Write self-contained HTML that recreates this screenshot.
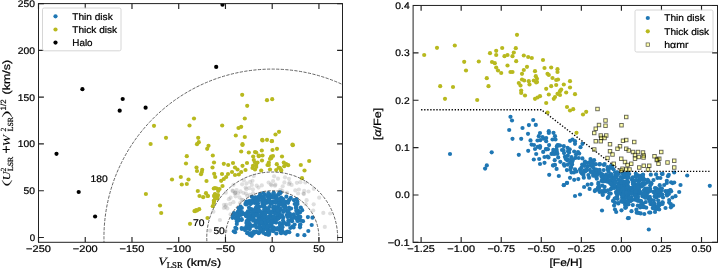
<!DOCTYPE html>
<html><head><meta charset="utf-8"><title>Kinematic and chemical selection of disk stars</title>
<style>html,body{margin:0;padding:0;background:#fff}body{width:718px;height:268px;overflow:hidden;font-family:"Liberation Sans",sans-serif}svg{display:block;will-change:transform;filter:blur(0.35px)}</style>
</head><body>
<svg width="718" height="268" viewBox="0 0 718 268" font-family="Liberation Sans, sans-serif" style="text-rendering:geometricPrecision">
<rect width="718" height="268" fill="#fff"/>
<defs>
<clipPath id="cl"><rect x="38.5" y="3.6" width="304.0" height="238.70000000000002"/></clipPath>
<clipPath id="cr"><rect x="413.1" y="5.45" width="304.4" height="236.95000000000002"/></clipPath>
</defs>
<g clip-path="url(#cl)">
<g fill="#808080" fill-opacity="0.25">
<circle cx="274.9" cy="185.7" r="2.1"/><circle cx="305.4" cy="182.5" r="2.1"/><circle cx="319.2" cy="197.7" r="2.1"/><circle cx="252.9" cy="189.3" r="2.1"/><circle cx="295.3" cy="190.4" r="2.1"/><circle cx="330.2" cy="213.5" r="2.1"/><circle cx="313.7" cy="204.3" r="2.1"/><circle cx="246.5" cy="183.4" r="2.1"/><circle cx="247.2" cy="195.8" r="2.1"/><circle cx="303.5" cy="193.5" r="2.1"/><circle cx="298.1" cy="193.5" r="2.1"/><circle cx="246.0" cy="193.6" r="2.1"/><circle cx="274.1" cy="176.3" r="2.1"/><circle cx="224.0" cy="204.8" r="2.1"/><circle cx="228.9" cy="199.2" r="2.1"/><circle cx="249.3" cy="188.1" r="2.1"/><circle cx="240.0" cy="203.1" r="2.1"/><circle cx="233.4" cy="202.2" r="2.1"/><circle cx="280.4" cy="189.8" r="2.1"/><circle cx="250.1" cy="181.8" r="2.1"/><circle cx="282.4" cy="191.0" r="2.1"/><circle cx="230.6" cy="197.7" r="2.1"/><circle cx="235.6" cy="196.3" r="2.1"/><circle cx="230.2" cy="203.9" r="2.1"/><circle cx="235.2" cy="192.8" r="2.1"/><circle cx="223.9" cy="208.0" r="2.1"/><circle cx="275.4" cy="184.7" r="2.1"/><circle cx="298.9" cy="189.5" r="2.1"/><circle cx="305.8" cy="204.0" r="2.1"/><circle cx="245.6" cy="187.6" r="2.1"/><circle cx="242.7" cy="199.8" r="2.1"/><circle cx="273.1" cy="181.0" r="2.1"/><circle cx="242.1" cy="184.3" r="2.1"/><circle cx="210.0" cy="230.6" r="2.1"/><circle cx="288.9" cy="184.2" r="2.1"/><circle cx="246.3" cy="189.2" r="2.1"/><circle cx="240.5" cy="191.4" r="2.1"/><circle cx="225.6" cy="231.0" r="2.1"/><circle cx="313.8" cy="188.8" r="2.1"/><circle cx="270.9" cy="184.3" r="2.1"/><circle cx="243.8" cy="180.3" r="2.1"/><circle cx="282.7" cy="186.3" r="2.1"/><circle cx="256.7" cy="185.7" r="2.1"/><circle cx="225.4" cy="206.9" r="2.1"/><circle cx="249.8" cy="194.8" r="2.1"/><circle cx="306.6" cy="200.2" r="2.1"/><circle cx="289.0" cy="178.8" r="2.1"/><circle cx="296.9" cy="182.8" r="2.1"/><circle cx="234.7" cy="193.5" r="2.1"/><circle cx="252.5" cy="180.8" r="2.1"/><circle cx="230.6" cy="214.3" r="2.1"/><circle cx="300.4" cy="182.2" r="2.1"/><circle cx="219.9" cy="220.0" r="2.1"/><circle cx="251.9" cy="184.9" r="2.1"/><circle cx="287.0" cy="192.6" r="2.1"/><circle cx="284.4" cy="182.4" r="2.1"/><circle cx="243.5" cy="193.0" r="2.1"/><circle cx="278.0" cy="178.7" r="2.1"/><circle cx="303.9" cy="194.1" r="2.1"/><circle cx="261.8" cy="185.4" r="2.1"/><circle cx="241.6" cy="199.8" r="2.1"/><circle cx="308.5" cy="191.5" r="2.1"/><circle cx="239.5" cy="197.4" r="2.1"/><circle cx="271.5" cy="185.3" r="2.1"/><circle cx="213.4" cy="211.7" r="2.1"/><circle cx="253.7" cy="175.9" r="2.1"/><circle cx="226.2" cy="204.8" r="2.1"/><circle cx="233.5" cy="184.8" r="2.1"/><circle cx="235.5" cy="192.7" r="2.1"/><circle cx="258.5" cy="187.6" r="2.1"/><circle cx="268.6" cy="182.5" r="2.1"/><circle cx="253.1" cy="193.3" r="2.1"/><circle cx="285.0" cy="177.3" r="2.1"/><circle cx="291.6" cy="184.9" r="2.1"/><circle cx="232.5" cy="190.7" r="2.1"/><circle cx="289.6" cy="182.6" r="2.1"/><circle cx="232.9" cy="191.0" r="2.1"/><circle cx="304.2" cy="190.9" r="2.1"/><circle cx="236.6" cy="190.0" r="2.1"/><circle cx="313.2" cy="210.5" r="2.1"/><circle cx="238.1" cy="193.3" r="2.1"/><circle cx="324.8" cy="226.9" r="2.1"/><circle cx="225.8" cy="192.7" r="2.1"/><circle cx="227.3" cy="208.4" r="2.1"/><circle cx="323.3" cy="212.9" r="2.1"/>
</g>
<g fill="#1f77b4" >
<circle cx="259.5" cy="222.2" r="2.1"/><circle cx="258.2" cy="210.3" r="2.1"/><circle cx="287.6" cy="216.9" r="2.1"/><circle cx="269.8" cy="225.7" r="2.1"/><circle cx="246.4" cy="223.1" r="2.1"/><circle cx="263.8" cy="219.3" r="2.1"/><circle cx="271.1" cy="222.0" r="2.1"/><circle cx="300.0" cy="212.5" r="2.1"/><circle cx="252.0" cy="215.4" r="2.1"/><circle cx="262.5" cy="218.7" r="2.1"/><circle cx="255.5" cy="208.5" r="2.1"/><circle cx="289.8" cy="213.7" r="2.1"/><circle cx="273.5" cy="194.3" r="2.1"/><circle cx="262.5" cy="212.5" r="2.1"/><circle cx="263.4" cy="193.0" r="2.1"/><circle cx="278.5" cy="201.8" r="2.1"/><circle cx="272.2" cy="216.5" r="2.1"/><circle cx="277.4" cy="218.4" r="2.1"/><circle cx="238.7" cy="208.2" r="2.1"/><circle cx="269.6" cy="194.6" r="2.1"/><circle cx="249.6" cy="201.5" r="2.1"/><circle cx="287.4" cy="231.5" r="2.1"/><circle cx="275.4" cy="207.9" r="2.1"/><circle cx="291.1" cy="208.5" r="2.1"/><circle cx="261.6" cy="223.5" r="2.1"/><circle cx="267.2" cy="202.6" r="2.1"/><circle cx="256.2" cy="207.3" r="2.1"/><circle cx="246.6" cy="201.5" r="2.1"/><circle cx="255.6" cy="197.4" r="2.1"/><circle cx="261.7" cy="213.5" r="2.1"/><circle cx="248.5" cy="211.9" r="2.1"/><circle cx="282.4" cy="227.2" r="2.1"/><circle cx="267.9" cy="220.6" r="2.1"/><circle cx="270.4" cy="220.9" r="2.1"/><circle cx="280.4" cy="201.6" r="2.1"/><circle cx="271.4" cy="223.8" r="2.1"/><circle cx="264.5" cy="210.2" r="2.1"/><circle cx="241.6" cy="228.0" r="2.1"/><circle cx="269.6" cy="221.2" r="2.1"/><circle cx="270.5" cy="196.0" r="2.1"/><circle cx="272.0" cy="221.3" r="2.1"/><circle cx="260.1" cy="194.1" r="2.1"/><circle cx="254.7" cy="202.8" r="2.1"/><circle cx="263.3" cy="206.7" r="2.1"/><circle cx="257.7" cy="212.4" r="2.1"/><circle cx="278.8" cy="194.1" r="2.1"/><circle cx="289.3" cy="232.2" r="2.1"/><circle cx="281.1" cy="233.2" r="2.1"/><circle cx="296.3" cy="206.7" r="2.1"/><circle cx="259.3" cy="225.6" r="2.1"/><circle cx="269.3" cy="207.0" r="2.1"/><circle cx="233.7" cy="214.0" r="2.1"/><circle cx="264.7" cy="202.3" r="2.1"/><circle cx="297.4" cy="201.7" r="2.1"/><circle cx="285.0" cy="205.7" r="2.1"/><circle cx="293.6" cy="227.5" r="2.1"/><circle cx="272.9" cy="210.9" r="2.1"/><circle cx="294.6" cy="224.6" r="2.1"/><circle cx="285.7" cy="233.6" r="2.1"/><circle cx="294.0" cy="200.2" r="2.1"/><circle cx="271.2" cy="219.8" r="2.1"/><circle cx="281.8" cy="216.3" r="2.1"/><circle cx="263.5" cy="199.1" r="2.1"/><circle cx="297.8" cy="213.5" r="2.1"/><circle cx="286.7" cy="201.8" r="2.1"/><circle cx="260.8" cy="228.1" r="2.1"/><circle cx="275.6" cy="208.3" r="2.1"/><circle cx="238.8" cy="214.0" r="2.1"/><circle cx="281.0" cy="224.7" r="2.1"/><circle cx="268.1" cy="195.2" r="2.1"/><circle cx="251.6" cy="209.3" r="2.1"/><circle cx="246.2" cy="204.4" r="2.1"/><circle cx="262.3" cy="202.8" r="2.1"/><circle cx="255.3" cy="211.9" r="2.1"/><circle cx="278.4" cy="214.3" r="2.1"/><circle cx="278.3" cy="201.9" r="2.1"/><circle cx="283.2" cy="199.2" r="2.1"/><circle cx="276.3" cy="207.6" r="2.1"/><circle cx="262.9" cy="221.9" r="2.1"/><circle cx="264.0" cy="220.4" r="2.1"/><circle cx="257.3" cy="211.6" r="2.1"/><circle cx="277.5" cy="207.3" r="2.1"/><circle cx="273.5" cy="229.0" r="2.1"/><circle cx="235.9" cy="217.6" r="2.1"/><circle cx="268.5" cy="218.2" r="2.1"/><circle cx="302.2" cy="210.2" r="2.1"/><circle cx="263.5" cy="218.4" r="2.1"/><circle cx="262.2" cy="222.9" r="2.1"/><circle cx="277.8" cy="229.5" r="2.1"/><circle cx="281.0" cy="224.3" r="2.1"/><circle cx="251.8" cy="235.8" r="2.1"/><circle cx="268.0" cy="234.7" r="2.1"/><circle cx="262.0" cy="200.4" r="2.1"/><circle cx="286.4" cy="224.5" r="2.1"/><circle cx="273.9" cy="196.3" r="2.1"/><circle cx="265.9" cy="208.1" r="2.1"/><circle cx="297.2" cy="213.1" r="2.1"/><circle cx="249.0" cy="220.4" r="2.1"/><circle cx="268.4" cy="193.0" r="2.1"/><circle cx="264.3" cy="206.0" r="2.1"/><circle cx="284.7" cy="203.2" r="2.1"/><circle cx="261.7" cy="215.8" r="2.1"/><circle cx="286.7" cy="215.0" r="2.1"/><circle cx="260.3" cy="196.1" r="2.1"/><circle cx="257.7" cy="207.7" r="2.1"/><circle cx="264.9" cy="203.5" r="2.1"/><circle cx="272.1" cy="202.4" r="2.1"/><circle cx="265.2" cy="211.3" r="2.1"/><circle cx="269.0" cy="233.3" r="2.1"/><circle cx="278.8" cy="205.3" r="2.1"/><circle cx="264.8" cy="194.5" r="2.1"/><circle cx="276.4" cy="233.5" r="2.1"/><circle cx="287.2" cy="211.7" r="2.1"/><circle cx="251.8" cy="196.8" r="2.1"/><circle cx="269.9" cy="216.0" r="2.1"/><circle cx="254.3" cy="202.3" r="2.1"/><circle cx="263.0" cy="229.7" r="2.1"/><circle cx="260.6" cy="228.4" r="2.1"/><circle cx="249.1" cy="216.4" r="2.1"/><circle cx="262.9" cy="217.8" r="2.1"/><circle cx="233.8" cy="231.3" r="2.1"/><circle cx="236.4" cy="228.7" r="2.1"/><circle cx="274.2" cy="219.7" r="2.1"/><circle cx="247.2" cy="233.2" r="2.1"/><circle cx="279.8" cy="223.2" r="2.1"/><circle cx="236.9" cy="221.5" r="2.1"/><circle cx="241.9" cy="229.0" r="2.1"/><circle cx="266.9" cy="221.0" r="2.1"/><circle cx="312.5" cy="217.7" r="2.1"/><circle cx="249.3" cy="225.5" r="2.1"/><circle cx="280.5" cy="208.9" r="2.1"/><circle cx="261.5" cy="214.9" r="2.1"/><circle cx="289.0" cy="207.7" r="2.1"/><circle cx="308.3" cy="231.0" r="2.1"/><circle cx="288.6" cy="224.6" r="2.1"/><circle cx="270.0" cy="217.2" r="2.1"/><circle cx="265.1" cy="227.1" r="2.1"/><circle cx="293.8" cy="214.4" r="2.1"/><circle cx="254.9" cy="214.4" r="2.1"/><circle cx="292.2" cy="226.7" r="2.1"/><circle cx="281.4" cy="232.4" r="2.1"/><circle cx="296.0" cy="203.7" r="2.1"/><circle cx="311.7" cy="225.0" r="2.1"/><circle cx="251.4" cy="209.6" r="2.1"/><circle cx="255.3" cy="232.2" r="2.1"/><circle cx="262.2" cy="205.9" r="2.1"/><circle cx="235.1" cy="232.2" r="2.1"/><circle cx="274.3" cy="221.6" r="2.1"/><circle cx="268.0" cy="208.9" r="2.1"/><circle cx="280.5" cy="229.3" r="2.1"/><circle cx="250.3" cy="209.7" r="2.1"/><circle cx="270.8" cy="220.0" r="2.1"/><circle cx="307.9" cy="217.1" r="2.1"/><circle cx="268.2" cy="229.6" r="2.1"/><circle cx="259.8" cy="226.8" r="2.1"/><circle cx="264.7" cy="203.3" r="2.1"/><circle cx="277.6" cy="216.1" r="2.1"/><circle cx="280.1" cy="225.5" r="2.1"/><circle cx="262.6" cy="196.6" r="2.1"/><circle cx="274.1" cy="222.1" r="2.1"/><circle cx="280.1" cy="210.1" r="2.1"/><circle cx="303.0" cy="221.2" r="2.1"/><circle cx="283.2" cy="217.5" r="2.1"/><circle cx="262.0" cy="223.2" r="2.1"/><circle cx="233.9" cy="213.0" r="2.1"/><circle cx="252.9" cy="200.8" r="2.1"/><circle cx="239.6" cy="208.9" r="2.1"/><circle cx="273.6" cy="201.3" r="2.1"/><circle cx="254.0" cy="216.2" r="2.1"/><circle cx="276.0" cy="202.7" r="2.1"/><circle cx="270.7" cy="215.5" r="2.1"/><circle cx="260.6" cy="220.1" r="2.1"/><circle cx="262.3" cy="231.3" r="2.1"/><circle cx="286.4" cy="196.7" r="2.1"/><circle cx="282.1" cy="215.5" r="2.1"/><circle cx="280.1" cy="193.2" r="2.1"/><circle cx="263.2" cy="213.0" r="2.1"/><circle cx="265.0" cy="217.0" r="2.1"/><circle cx="270.1" cy="216.2" r="2.1"/><circle cx="259.1" cy="218.4" r="2.1"/><circle cx="232.5" cy="217.8" r="2.1"/><circle cx="282.2" cy="230.7" r="2.1"/><circle cx="251.2" cy="209.6" r="2.1"/><circle cx="265.1" cy="220.5" r="2.1"/><circle cx="268.9" cy="221.0" r="2.1"/><circle cx="264.6" cy="226.7" r="2.1"/><circle cx="247.5" cy="216.6" r="2.1"/><circle cx="265.5" cy="234.1" r="2.1"/><circle cx="283.5" cy="223.0" r="2.1"/><circle cx="278.4" cy="218.6" r="2.1"/><circle cx="294.7" cy="217.2" r="2.1"/><circle cx="286.9" cy="210.7" r="2.1"/><circle cx="297.8" cy="220.3" r="2.1"/><circle cx="268.8" cy="212.5" r="2.1"/><circle cx="284.7" cy="232.9" r="2.1"/><circle cx="271.9" cy="226.5" r="2.1"/><circle cx="257.1" cy="203.5" r="2.1"/><circle cx="256.0" cy="208.6" r="2.1"/><circle cx="257.2" cy="212.1" r="2.1"/><circle cx="258.0" cy="203.4" r="2.1"/><circle cx="265.5" cy="200.2" r="2.1"/><circle cx="269.0" cy="234.6" r="2.1"/><circle cx="252.9" cy="215.4" r="2.1"/><circle cx="274.9" cy="220.3" r="2.1"/><circle cx="233.0" cy="215.4" r="2.1"/><circle cx="256.5" cy="212.6" r="2.1"/><circle cx="256.5" cy="207.8" r="2.1"/><circle cx="264.8" cy="215.1" r="2.1"/><circle cx="273.3" cy="207.5" r="2.1"/><circle cx="259.1" cy="206.9" r="2.1"/><circle cx="286.0" cy="201.9" r="2.1"/><circle cx="255.7" cy="220.3" r="2.1"/><circle cx="246.6" cy="226.0" r="2.1"/><circle cx="251.1" cy="225.6" r="2.1"/><circle cx="249.8" cy="229.1" r="2.1"/><circle cx="236.8" cy="224.0" r="2.1"/><circle cx="274.5" cy="213.1" r="2.1"/><circle cx="260.1" cy="211.3" r="2.1"/><circle cx="279.7" cy="213.8" r="2.1"/><circle cx="300.3" cy="224.3" r="2.1"/><circle cx="241.2" cy="214.4" r="2.1"/><circle cx="284.0" cy="222.6" r="2.1"/><circle cx="263.9" cy="197.8" r="2.1"/><circle cx="253.4" cy="211.7" r="2.1"/><circle cx="259.0" cy="220.3" r="2.1"/><circle cx="277.5" cy="215.7" r="2.1"/><circle cx="273.5" cy="220.8" r="2.1"/><circle cx="280.6" cy="227.8" r="2.1"/><circle cx="281.1" cy="197.7" r="2.1"/><circle cx="273.7" cy="192.8" r="2.1"/><circle cx="254.6" cy="201.3" r="2.1"/><circle cx="255.8" cy="222.9" r="2.1"/><circle cx="288.4" cy="220.6" r="2.1"/><circle cx="290.7" cy="215.1" r="2.1"/><circle cx="247.9" cy="211.3" r="2.1"/><circle cx="283.2" cy="212.0" r="2.1"/><circle cx="265.5" cy="210.9" r="2.1"/><circle cx="288.3" cy="214.3" r="2.1"/><circle cx="253.9" cy="225.6" r="2.1"/><circle cx="253.2" cy="220.7" r="2.1"/><circle cx="244.6" cy="228.3" r="2.1"/><circle cx="275.5" cy="202.6" r="2.1"/><circle cx="290.3" cy="228.0" r="2.1"/><circle cx="259.0" cy="227.3" r="2.1"/><circle cx="243.6" cy="214.0" r="2.1"/><circle cx="252.1" cy="202.4" r="2.1"/><circle cx="237.8" cy="212.5" r="2.1"/><circle cx="272.0" cy="197.5" r="2.1"/><circle cx="249.7" cy="234.8" r="2.1"/><circle cx="255.1" cy="225.6" r="2.1"/><circle cx="280.5" cy="209.6" r="2.1"/><circle cx="258.8" cy="233.2" r="2.1"/><circle cx="258.3" cy="209.6" r="2.1"/><circle cx="257.9" cy="222.0" r="2.1"/><circle cx="264.2" cy="222.3" r="2.1"/><circle cx="258.5" cy="198.4" r="2.1"/><circle cx="282.2" cy="226.7" r="2.1"/><circle cx="252.6" cy="217.4" r="2.1"/><circle cx="269.3" cy="198.8" r="2.1"/><circle cx="264.1" cy="224.1" r="2.1"/><circle cx="246.7" cy="227.6" r="2.1"/><circle cx="296.2" cy="207.8" r="2.1"/><circle cx="252.0" cy="212.4" r="2.1"/><circle cx="249.7" cy="223.8" r="2.1"/><circle cx="291.7" cy="220.1" r="2.1"/><circle cx="291.6" cy="220.2" r="2.1"/><circle cx="264.5" cy="227.0" r="2.1"/><circle cx="238.7" cy="215.5" r="2.1"/><circle cx="265.9" cy="221.3" r="2.1"/><circle cx="261.2" cy="221.1" r="2.1"/><circle cx="262.2" cy="221.8" r="2.1"/><circle cx="265.0" cy="214.2" r="2.1"/><circle cx="269.1" cy="198.5" r="2.1"/><circle cx="257.3" cy="210.9" r="2.1"/><circle cx="276.4" cy="201.1" r="2.1"/><circle cx="289.5" cy="199.5" r="2.1"/><circle cx="274.0" cy="195.8" r="2.1"/><circle cx="247.1" cy="222.8" r="2.1"/><circle cx="271.6" cy="218.6" r="2.1"/><circle cx="298.1" cy="210.5" r="2.1"/><circle cx="266.7" cy="222.2" r="2.1"/><circle cx="273.5" cy="193.4" r="2.1"/><circle cx="263.4" cy="226.1" r="2.1"/><circle cx="258.4" cy="198.3" r="2.1"/><circle cx="277.7" cy="211.1" r="2.1"/><circle cx="304.4" cy="235.2" r="2.1"/><circle cx="241.7" cy="220.0" r="2.1"/><circle cx="266.2" cy="224.0" r="2.1"/><circle cx="270.5" cy="203.9" r="2.1"/><circle cx="249.0" cy="207.7" r="2.1"/><circle cx="270.7" cy="203.2" r="2.1"/><circle cx="294.1" cy="217.6" r="2.1"/><circle cx="267.3" cy="233.9" r="2.1"/><circle cx="279.8" cy="199.2" r="2.1"/><circle cx="264.3" cy="209.7" r="2.1"/><circle cx="252.2" cy="202.6" r="2.1"/><circle cx="277.4" cy="214.3" r="2.1"/><circle cx="286.0" cy="232.4" r="2.1"/><circle cx="274.1" cy="229.1" r="2.1"/><circle cx="254.4" cy="198.1" r="2.1"/><circle cx="273.4" cy="231.0" r="2.1"/><circle cx="236.0" cy="218.7" r="2.1"/><circle cx="272.3" cy="229.8" r="2.1"/><circle cx="250.8" cy="217.7" r="2.1"/><circle cx="280.4" cy="231.6" r="2.1"/><circle cx="296.7" cy="217.4" r="2.1"/><circle cx="288.4" cy="222.3" r="2.1"/><circle cx="241.8" cy="208.0" r="2.1"/><circle cx="291.1" cy="217.6" r="2.1"/><circle cx="270.5" cy="227.0" r="2.1"/><circle cx="253.3" cy="218.0" r="2.1"/><circle cx="274.3" cy="202.0" r="2.1"/><circle cx="296.5" cy="199.1" r="2.1"/><circle cx="261.7" cy="216.9" r="2.1"/><circle cx="296.4" cy="211.0" r="2.1"/><circle cx="248.0" cy="219.8" r="2.1"/><circle cx="259.2" cy="232.0" r="2.1"/><circle cx="269.1" cy="210.9" r="2.1"/><circle cx="267.1" cy="196.1" r="2.1"/><circle cx="257.9" cy="214.6" r="2.1"/><circle cx="254.1" cy="210.4" r="2.1"/><circle cx="297.5" cy="204.0" r="2.1"/><circle cx="275.4" cy="210.1" r="2.1"/><circle cx="238.0" cy="211.5" r="2.1"/><circle cx="276.1" cy="222.6" r="2.1"/><circle cx="281.0" cy="204.0" r="2.1"/><circle cx="271.5" cy="223.6" r="2.1"/><circle cx="283.0" cy="220.4" r="2.1"/><circle cx="258.4" cy="207.2" r="2.1"/><circle cx="281.0" cy="204.6" r="2.1"/><circle cx="261.0" cy="220.3" r="2.1"/><circle cx="274.4" cy="197.6" r="2.1"/><circle cx="273.4" cy="231.1" r="2.1"/><circle cx="242.0" cy="212.1" r="2.1"/><circle cx="282.3" cy="200.0" r="2.1"/><circle cx="283.8" cy="210.1" r="2.1"/><circle cx="234.2" cy="213.6" r="2.1"/><circle cx="271.8" cy="203.6" r="2.1"/><circle cx="239.9" cy="213.2" r="2.1"/><circle cx="253.6" cy="197.5" r="2.1"/><circle cx="277.1" cy="211.2" r="2.1"/><circle cx="254.0" cy="215.2" r="2.1"/><circle cx="275.2" cy="213.2" r="2.1"/><circle cx="292.1" cy="221.2" r="2.1"/><circle cx="270.8" cy="201.8" r="2.1"/><circle cx="287.9" cy="216.4" r="2.1"/><circle cx="280.7" cy="192.5" r="2.1"/><circle cx="235.4" cy="227.8" r="2.1"/><circle cx="260.4" cy="229.3" r="2.1"/><circle cx="285.3" cy="207.4" r="2.1"/><circle cx="236.8" cy="214.7" r="2.1"/><circle cx="277.7" cy="210.6" r="2.1"/><circle cx="288.1" cy="223.3" r="2.1"/><circle cx="301.0" cy="220.5" r="2.1"/><circle cx="289.2" cy="200.1" r="2.1"/><circle cx="288.1" cy="202.8" r="2.1"/><circle cx="247.9" cy="228.3" r="2.1"/><circle cx="261.5" cy="218.7" r="2.1"/><circle cx="274.3" cy="217.1" r="2.1"/><circle cx="275.8" cy="220.3" r="2.1"/><circle cx="297.6" cy="235.0" r="2.1"/><circle cx="279.8" cy="217.3" r="2.1"/><circle cx="238.3" cy="217.8" r="2.1"/><circle cx="300.8" cy="207.5" r="2.1"/><circle cx="262.3" cy="198.3" r="2.1"/><circle cx="268.4" cy="221.7" r="2.1"/><circle cx="273.9" cy="227.5" r="2.1"/><circle cx="300.1" cy="225.4" r="2.1"/><circle cx="294.7" cy="204.0" r="2.1"/><circle cx="280.7" cy="215.7" r="2.1"/><circle cx="265.8" cy="220.8" r="2.1"/><circle cx="265.0" cy="221.5" r="2.1"/><circle cx="240.6" cy="206.7" r="2.1"/><circle cx="238.8" cy="220.3" r="2.1"/><circle cx="272.6" cy="222.5" r="2.1"/><circle cx="269.0" cy="231.1" r="2.1"/><circle cx="249.2" cy="201.1" r="2.1"/><circle cx="259.1" cy="219.4" r="2.1"/><circle cx="241.6" cy="219.2" r="2.1"/><circle cx="249.6" cy="217.6" r="2.1"/><circle cx="262.5" cy="200.3" r="2.1"/><circle cx="256.0" cy="214.5" r="2.1"/><circle cx="290.8" cy="197.9" r="2.1"/><circle cx="296.6" cy="218.5" r="2.1"/><circle cx="247.7" cy="213.8" r="2.1"/><circle cx="278.1" cy="218.3" r="2.1"/><circle cx="251.4" cy="201.0" r="2.1"/><circle cx="288.6" cy="210.4" r="2.1"/><circle cx="245.4" cy="213.5" r="2.1"/><circle cx="258.7" cy="217.3" r="2.1"/><circle cx="245.0" cy="230.1" r="2.1"/><circle cx="267.1" cy="228.5" r="2.1"/><circle cx="258.7" cy="219.0" r="2.1"/><circle cx="255.6" cy="201.1" r="2.1"/><circle cx="274.8" cy="229.0" r="2.1"/><circle cx="239.7" cy="208.7" r="2.1"/><circle cx="285.0" cy="206.0" r="2.1"/><circle cx="256.6" cy="227.7" r="2.1"/><circle cx="253.5" cy="233.7" r="2.1"/><circle cx="295.9" cy="207.6" r="2.1"/><circle cx="267.4" cy="232.9" r="2.1"/><circle cx="249.7" cy="227.1" r="2.1"/><circle cx="298.4" cy="220.5" r="2.1"/><circle cx="276.4" cy="196.4" r="2.1"/><circle cx="264.1" cy="214.1" r="2.1"/><circle cx="267.5" cy="229.9" r="2.1"/><circle cx="300.0" cy="227.3" r="2.1"/><circle cx="246.6" cy="201.8" r="2.1"/><circle cx="276.3" cy="198.6" r="2.1"/><circle cx="245.4" cy="203.9" r="2.1"/><circle cx="298.6" cy="216.4" r="2.1"/><circle cx="250.5" cy="204.1" r="2.1"/><circle cx="283.4" cy="201.8" r="2.1"/><circle cx="249.0" cy="214.8" r="2.1"/><circle cx="240.6" cy="215.0" r="2.1"/><circle cx="257.5" cy="198.6" r="2.1"/><circle cx="258.5" cy="200.2" r="2.1"/><circle cx="251.1" cy="233.2" r="2.1"/><circle cx="299.0" cy="218.5" r="2.1"/><circle cx="296.5" cy="209.9" r="2.1"/><circle cx="283.5" cy="206.2" r="2.1"/><circle cx="268.7" cy="225.5" r="2.1"/><circle cx="278.2" cy="194.5" r="2.1"/><circle cx="284.8" cy="206.8" r="2.1"/><circle cx="268.4" cy="220.6" r="2.1"/><circle cx="264.4" cy="202.4" r="2.1"/><circle cx="267.5" cy="217.2" r="2.1"/><circle cx="253.9" cy="231.6" r="2.1"/><circle cx="247.0" cy="216.3" r="2.1"/><circle cx="268.7" cy="198.0" r="2.1"/><circle cx="264.6" cy="228.9" r="2.1"/><circle cx="277.1" cy="229.0" r="2.1"/><circle cx="277.6" cy="228.1" r="2.1"/><circle cx="247.8" cy="203.6" r="2.1"/><circle cx="300.3" cy="216.9" r="2.1"/><circle cx="246.7" cy="221.0" r="2.1"/><circle cx="270.4" cy="222.7" r="2.1"/><circle cx="259.3" cy="211.0" r="2.1"/><circle cx="268.7" cy="199.8" r="2.1"/><circle cx="257.0" cy="206.1" r="2.1"/><circle cx="245.9" cy="215.5" r="2.1"/><circle cx="264.3" cy="219.8" r="2.1"/><circle cx="266.2" cy="228.6" r="2.1"/><circle cx="263.3" cy="232.8" r="2.1"/><circle cx="240.5" cy="211.9" r="2.1"/><circle cx="275.1" cy="207.2" r="2.1"/><circle cx="256.5" cy="231.9" r="2.1"/><circle cx="258.8" cy="196.5" r="2.1"/><circle cx="297.5" cy="220.9" r="2.1"/><circle cx="273.9" cy="216.9" r="2.1"/><circle cx="249.0" cy="214.4" r="2.1"/><circle cx="257.8" cy="215.8" r="2.1"/><circle cx="267.1" cy="226.8" r="2.1"/><circle cx="264.2" cy="216.5" r="2.1"/><circle cx="270.3" cy="231.1" r="2.1"/><circle cx="247.8" cy="232.3" r="2.1"/><circle cx="271.3" cy="212.7" r="2.1"/><circle cx="265.7" cy="213.1" r="2.1"/><circle cx="273.3" cy="207.4" r="2.1"/><circle cx="257.1" cy="222.8" r="2.1"/><circle cx="279.7" cy="192.4" r="2.1"/><circle cx="251.5" cy="226.1" r="2.1"/><circle cx="246.0" cy="216.1" r="2.1"/><circle cx="278.5" cy="199.3" r="2.1"/><circle cx="275.0" cy="201.9" r="2.1"/><circle cx="272.0" cy="221.0" r="2.1"/><circle cx="263.5" cy="226.5" r="2.1"/><circle cx="261.1" cy="222.2" r="2.1"/><circle cx="252.2" cy="219.3" r="2.1"/><circle cx="273.8" cy="206.5" r="2.1"/>
</g>
<g fill="#b8b91e" >
<circle cx="154.0" cy="125.8" r="2.1"/><circle cx="150.6" cy="144.0" r="2.1"/><circle cx="145.9" cy="194.0" r="2.1"/><circle cx="194.0" cy="118.5" r="2.1"/><circle cx="189.5" cy="125.5" r="2.1"/><circle cx="222.2" cy="125.5" r="2.1"/><circle cx="238.5" cy="128.0" r="2.1"/><circle cx="235.8" cy="135.5" r="2.1"/><circle cx="166.0" cy="137.8" r="2.1"/><circle cx="198.2" cy="137.8" r="2.1"/><circle cx="198.8" cy="142.2" r="2.1"/><circle cx="197.0" cy="144.2" r="2.1"/><circle cx="208.5" cy="145.8" r="2.1"/><circle cx="242.2" cy="94.8" r="2.1"/><circle cx="267.0" cy="100.2" r="2.1"/><circle cx="272.2" cy="99.2" r="2.1"/><circle cx="247.2" cy="105.8" r="2.1"/><circle cx="244.8" cy="118.5" r="2.1"/><circle cx="241.2" cy="126.8" r="2.1"/><circle cx="279.0" cy="131.8" r="2.1"/><circle cx="275.5" cy="134.5" r="2.1"/><circle cx="244.8" cy="137.0" r="2.1"/><circle cx="262.2" cy="139.8" r="2.1"/><circle cx="267.0" cy="139.8" r="2.1"/><circle cx="272.0" cy="141.0" r="2.1"/><circle cx="292.8" cy="145.2" r="2.1"/><circle cx="242.5" cy="145.0" r="2.1"/><circle cx="207.2" cy="148.8" r="2.1"/><circle cx="186.8" cy="156.2" r="2.1"/><circle cx="212.8" cy="155.5" r="2.1"/><circle cx="186.0" cy="163.5" r="2.1"/><circle cx="214.0" cy="162.5" r="2.1"/><circle cx="223.8" cy="163.8" r="2.1"/><circle cx="228.2" cy="165.0" r="2.1"/><circle cx="196.5" cy="167.5" r="2.1"/><circle cx="212.5" cy="167.5" r="2.1"/><circle cx="202.2" cy="169.8" r="2.1"/><circle cx="197.0" cy="171.0" r="2.1"/><circle cx="201.8" cy="172.0" r="2.1"/><circle cx="201.0" cy="174.2" r="2.1"/><circle cx="214.2" cy="173.8" r="2.1"/><circle cx="222.0" cy="174.0" r="2.1"/><circle cx="228.0" cy="174.0" r="2.1"/><circle cx="180.8" cy="177.0" r="2.1"/><circle cx="215.2" cy="177.0" r="2.1"/><circle cx="226.2" cy="177.0" r="2.1"/><circle cx="172.0" cy="179.5" r="2.1"/><circle cx="188.5" cy="179.5" r="2.1"/><circle cx="223.8" cy="179.0" r="2.1"/><circle cx="206.5" cy="181.0" r="2.1"/><circle cx="221.2" cy="180.8" r="2.1"/><circle cx="181.8" cy="184.5" r="2.1"/><circle cx="186.8" cy="184.0" r="2.1"/><circle cx="222.5" cy="186.0" r="2.1"/><circle cx="213.8" cy="188.5" r="2.1"/><circle cx="216.8" cy="188.5" r="2.1"/><circle cx="219.5" cy="189.0" r="2.1"/><circle cx="218.2" cy="191.0" r="2.1"/><circle cx="197.8" cy="191.0" r="2.1"/><circle cx="206.0" cy="193.2" r="2.1"/><circle cx="214.8" cy="194.5" r="2.1"/><circle cx="199.5" cy="196.0" r="2.1"/><circle cx="203.2" cy="197.2" r="2.1"/><circle cx="208.0" cy="196.0" r="2.1"/><circle cx="214.0" cy="196.0" r="2.1"/><circle cx="217.5" cy="196.0" r="2.1"/><circle cx="215.5" cy="198.2" r="2.1"/><circle cx="213.8" cy="200.8" r="2.1"/><circle cx="160.0" cy="205.5" r="2.1"/><circle cx="212.8" cy="206.2" r="2.1"/><circle cx="199.2" cy="209.2" r="2.1"/><circle cx="195.0" cy="211.2" r="2.1"/><circle cx="197.0" cy="210.5" r="2.1"/><circle cx="161.2" cy="213.0" r="2.1"/><circle cx="262.5" cy="140.5" r="2.1"/><circle cx="271.8" cy="141.2" r="2.1"/><circle cx="242.5" cy="144.2" r="2.1"/><circle cx="292.5" cy="144.5" r="2.1"/><circle cx="272.5" cy="150.0" r="2.1"/><circle cx="277.0" cy="148.8" r="2.1"/><circle cx="261.8" cy="150.5" r="2.1"/><circle cx="241.2" cy="151.5" r="2.1"/><circle cx="248.8" cy="152.5" r="2.1"/><circle cx="255.0" cy="152.0" r="2.1"/><circle cx="258.8" cy="155.5" r="2.1"/><circle cx="262.5" cy="155.5" r="2.1"/><circle cx="253.2" cy="156.5" r="2.1"/><circle cx="271.2" cy="156.5" r="2.1"/><circle cx="282.0" cy="156.5" r="2.1"/><circle cx="270.0" cy="158.8" r="2.1"/><circle cx="253.8" cy="160.0" r="2.1"/><circle cx="262.0" cy="160.5" r="2.1"/><circle cx="309.2" cy="161.0" r="2.1"/><circle cx="233.0" cy="163.0" r="2.1"/><circle cx="247.0" cy="163.0" r="2.1"/><circle cx="255.0" cy="162.5" r="2.1"/><circle cx="268.8" cy="162.5" r="2.1"/><circle cx="283.8" cy="162.5" r="2.1"/><circle cx="276.8" cy="164.2" r="2.1"/><circle cx="286.2" cy="164.2" r="2.1"/><circle cx="300.8" cy="165.0" r="2.1"/><circle cx="242.5" cy="165.8" r="2.1"/><circle cx="253.0" cy="165.8" r="2.1"/><circle cx="256.2" cy="165.0" r="2.1"/><circle cx="267.5" cy="165.0" r="2.1"/><circle cx="235.0" cy="167.5" r="2.1"/><circle cx="252.5" cy="168.0" r="2.1"/><circle cx="278.8" cy="167.5" r="2.1"/><circle cx="237.5" cy="169.5" r="2.1"/><circle cx="245.5" cy="170.0" r="2.1"/><circle cx="255.0" cy="169.5" r="2.1"/><circle cx="261.2" cy="170.5" r="2.1"/><circle cx="270.0" cy="169.5" r="2.1"/><circle cx="276.2" cy="170.0" r="2.1"/><circle cx="281.2" cy="170.0" r="2.1"/><circle cx="304.5" cy="170.5" r="2.1"/><circle cx="232.0" cy="172.0" r="2.1"/><circle cx="241.2" cy="172.0" r="2.1"/><circle cx="238.8" cy="174.5" r="2.1"/><circle cx="235.0" cy="175.0" r="2.1"/><circle cx="302.0" cy="178.2" r="2.1"/><circle cx="256.2" cy="152.5" r="2.1"/><circle cx="273.0" cy="156.0" r="2.1"/><circle cx="258.8" cy="156.2" r="2.1"/><circle cx="271.2" cy="158.2" r="2.1"/><circle cx="257.5" cy="162.5" r="2.1"/><circle cx="288.2" cy="165.2" r="2.1"/><circle cx="284.2" cy="166.2" r="2.1"/><circle cx="268.8" cy="165.0" r="2.1"/><circle cx="256.2" cy="167.0" r="2.1"/><circle cx="280.0" cy="168.2" r="2.1"/><circle cx="281.2" cy="170.8" r="2.1"/><circle cx="215.0" cy="188.0" r="2.1"/><circle cx="215.0" cy="194.2" r="2.1"/><circle cx="218.0" cy="195.0" r="2.1"/><circle cx="207.5" cy="196.0" r="2.1"/><circle cx="215.0" cy="197.5" r="2.1"/><circle cx="217.5" cy="198.5" r="2.1"/><circle cx="214.2" cy="201.0" r="2.1"/><circle cx="213.8" cy="203.0" r="2.1"/><circle cx="196.2" cy="210.0" r="2.1"/><circle cx="194.5" cy="211.0" r="2.1"/><circle cx="207.5" cy="218.0" r="2.1"/><circle cx="190.0" cy="223.8" r="2.1"/>
</g>
<g fill="#000" >
<circle cx="82.4" cy="89.2" r="2.1"/><circle cx="122.7" cy="99.0" r="2.1"/><circle cx="119.7" cy="110.7" r="2.1"/><circle cx="145.6" cy="107.7" r="2.1"/><circle cx="56.5" cy="153.8" r="2.1"/><circle cx="78.7" cy="192.0" r="2.1"/><circle cx="95.1" cy="216.5" r="2.1"/><circle cx="222.5" cy="4.7" r="2.1"/><circle cx="216.2" cy="66.9" r="2.1"/>
</g>
<ellipse cx="272.2" cy="237.5" rx="46.74" ry="46.78" fill="none" stroke="#555" stroke-width="0.9" stroke-dasharray="3.2 1.38"/>
<ellipse cx="272.2" cy="237.5" rx="65.44" ry="65.49" fill="none" stroke="#555" stroke-width="0.9" stroke-dasharray="3.2 1.38"/>
<ellipse cx="272.2" cy="237.5" rx="168.26" ry="168.41" fill="none" stroke="#555" stroke-width="0.9" stroke-dasharray="3.2 1.38"/>
</g>
<text x="99.20" y="181.60" font-size="9.67" text-anchor="middle" fill="#000" stroke="#000" stroke-width="0.22" textLength="17.18" lengthAdjust="spacingAndGlyphs" >180</text>
<text x="198.80" y="225.70" font-size="9.67" text-anchor="middle" fill="#000" stroke="#000" stroke-width="0.22" textLength="11.45" lengthAdjust="spacingAndGlyphs" >70</text>
<text x="219.10" y="233.80" font-size="9.67" text-anchor="middle" fill="#000" stroke="#000" stroke-width="0.22" textLength="11.45" lengthAdjust="spacingAndGlyphs" >50</text>
<path d="M38.50 242.3v-5.4M38.50 3.6v5.4M85.24 242.3v-5.4M85.24 3.6v5.4M131.98 242.3v-5.4M131.98 3.6v5.4M178.72 242.3v-5.4M178.72 3.6v5.4M225.46 242.3v-5.4M225.46 3.6v5.4M272.20 242.3v-5.4M272.20 3.6v5.4M318.94 242.3v-5.4M318.94 3.6v5.4M38.5 237.50h5.4M342.5 237.50h-5.4M38.5 190.72h5.4M342.5 190.72h-5.4M38.5 143.94h5.4M342.5 143.94h-5.4M38.5 97.16h5.4M342.5 97.16h-5.4M38.5 50.38h5.4M342.5 50.38h-5.4M38.5 3.60h5.4M342.5 3.60h-5.4" stroke="#222" stroke-width="1.15" fill="none"/>
<rect x="38.5" y="3.6" width="304.00" height="238.70" fill="none" stroke="#222" stroke-width="1.0"/>
<text x="38.50" y="252.30" font-size="9.67" text-anchor="middle" fill="#000" stroke="#000" stroke-width="0.22" textLength="24.72" lengthAdjust="spacingAndGlyphs" >−250</text>
<text x="85.24" y="252.30" font-size="9.67" text-anchor="middle" fill="#000" stroke="#000" stroke-width="0.22" textLength="24.72" lengthAdjust="spacingAndGlyphs" >−200</text>
<text x="131.98" y="252.30" font-size="9.67" text-anchor="middle" fill="#000" stroke="#000" stroke-width="0.22" textLength="24.72" lengthAdjust="spacingAndGlyphs" >−150</text>
<text x="178.72" y="252.30" font-size="9.67" text-anchor="middle" fill="#000" stroke="#000" stroke-width="0.22" textLength="24.72" lengthAdjust="spacingAndGlyphs" >−100</text>
<text x="225.46" y="252.30" font-size="9.67" text-anchor="middle" fill="#000" stroke="#000" stroke-width="0.22" textLength="18.99" lengthAdjust="spacingAndGlyphs" >−50</text>
<text x="272.20" y="252.30" font-size="9.67" text-anchor="middle" fill="#000" stroke="#000" stroke-width="0.22" >0</text>
<text x="318.94" y="252.30" font-size="9.67" text-anchor="middle" fill="#000" stroke="#000" stroke-width="0.22" textLength="11.45" lengthAdjust="spacingAndGlyphs" >50</text>
<text x="35.00" y="240.90" font-size="9.67" text-anchor="end" fill="#000" stroke="#000" stroke-width="0.22" >0</text>
<text x="35.00" y="194.12" font-size="9.67" text-anchor="end" fill="#000" stroke="#000" stroke-width="0.22" textLength="11.45" lengthAdjust="spacingAndGlyphs" >50</text>
<text x="35.00" y="147.34" font-size="9.67" text-anchor="end" fill="#000" stroke="#000" stroke-width="0.22" textLength="17.18" lengthAdjust="spacingAndGlyphs" >100</text>
<text x="35.00" y="100.56" font-size="9.67" text-anchor="end" fill="#000" stroke="#000" stroke-width="0.22" textLength="17.18" lengthAdjust="spacingAndGlyphs" >150</text>
<text x="35.00" y="53.78" font-size="9.67" text-anchor="end" fill="#000" stroke="#000" stroke-width="0.22" textLength="17.18" lengthAdjust="spacingAndGlyphs" >200</text>
<text x="35.00" y="7.00" font-size="9.67" text-anchor="end" fill="#000" stroke="#000" stroke-width="0.22" textLength="17.18" lengthAdjust="spacingAndGlyphs" >250</text>
<rect x="42.5" y="8.0" width="78.5" height="42.8" rx="1.6" fill="#fff" fill-opacity="0.8" stroke="#ccc" stroke-width="0.8"/>
<circle cx="55.5" cy="16.3" r="2.1" fill="#1f77b4"/>
<text x="72.30" y="19.60" font-size="9.67" text-anchor="start" fill="#000" stroke="#000" stroke-width="0.22" textLength="40.38" lengthAdjust="spacingAndGlyphs" >Thin disk</text>
<circle cx="55.5" cy="29.5" r="2.1" fill="#b8b91e"/>
<text x="72.30" y="32.80" font-size="9.67" text-anchor="start" fill="#000" stroke="#000" stroke-width="0.22" textLength="44.84" lengthAdjust="spacingAndGlyphs" >Thick disk</text>
<circle cx="55.5" cy="42.6" r="2.1" fill="#000"/>
<text x="72.30" y="45.90" font-size="9.67" text-anchor="start" fill="#000" stroke="#000" stroke-width="0.22" textLength="20.29" lengthAdjust="spacingAndGlyphs" >Halo</text>
<g transform="translate(158.3 265.1) scale(1.28 1.04)"><text x="0" y="0" font-size="10.8" font-style="italic" font-family="Liberation Serif, serif" stroke="#000" stroke-width="0.12">V</text></g>
<text x="166.8" y="268.2" font-size="8.7" font-family="Liberation Serif, serif" stroke="#000" stroke-width="0.25">LSR</text>
<text x="186.60" y="265.90" font-size="10.52" text-anchor="start" fill="#000" stroke="#000" stroke-width="0.22" textLength="34.63" lengthAdjust="spacingAndGlyphs" >(km/s)</text>
<g transform="translate(10.0 186.3) rotate(-90)">
<path d="M6.0 -7.8C-1.07 -5.2 -1.07 -0.8 6.0 1.8C0.67 -0.8 0.67 -5.2 6.0 -7.8Z" fill="#000" stroke="#000" stroke-width="0.35"/>
<g transform="translate(6.0 0) scale(1.15 1)">
<text x="0" y="0" font-size="10.6" font-family="Liberation Serif, serif" font-style="italic" stroke="#000" stroke-width="0.12">U</text>
</g>
<text x="14.9" y="-4.4" font-size="7.8" font-family="Liberation Serif, serif"  stroke="#000" stroke-width="0.15">2</text>
<text x="15.2" y="2.9" font-size="7.8" font-family="Liberation Serif, serif"  stroke="#000" stroke-width="0.2">LSR</text>
<path d="M33.2 -3.8H40.4M36.8 -7.4V-0.2" stroke="#000" stroke-width="1.1" fill="none"/>
<g transform="translate(39.8 0) scale(1.32 1)">
<text x="0" y="0" font-size="10.6" font-family="Liberation Serif, serif" font-style="italic" >W</text>
</g>
<text x="54.9" y="-4.4" font-size="7.8" font-family="Liberation Serif, serif"  stroke="#000" stroke-width="0.15">2</text>
<text x="55.0" y="2.9" font-size="7.8" font-family="Liberation Serif, serif"  stroke="#000" stroke-width="0.2">LSR</text>
<path d="M69.4 -7.8C76.47 -5.2 76.47 -0.8 69.4 1.8C74.73 -0.8 74.73 -5.2 69.4 -7.8Z" fill="#000" stroke="#000" stroke-width="0.35"/>
<text x="75.9" y="-3.7" font-size="7.8" font-family="Liberation Sans, sans-serif"  textLength="11.0" lengthAdjust="spacingAndGlyphs" stroke="#000" stroke-width="0.15">1/2</text>
<text x="91.9" y="0" font-size="10.5" font-family="Liberation Sans, sans-serif"  textLength="34.63" lengthAdjust="spacingAndGlyphs" stroke="#000" stroke-width="0.22">(km/s)</text>
</g>
<g clip-path="url(#cr)">
<g fill="#1f77b4" >
<circle cx="638.4" cy="192.9" r="2.1"/><circle cx="596.8" cy="178.7" r="2.1"/><circle cx="618.9" cy="173.8" r="2.1"/><circle cx="567.8" cy="155.5" r="2.1"/><circle cx="654.5" cy="205.0" r="2.1"/><circle cx="657.5" cy="190.3" r="2.1"/><circle cx="627.5" cy="181.8" r="2.1"/><circle cx="571.5" cy="157.2" r="2.1"/><circle cx="585.0" cy="171.3" r="2.1"/><circle cx="620.2" cy="183.0" r="2.1"/><circle cx="656.5" cy="197.5" r="2.1"/><circle cx="622.8" cy="173.6" r="2.1"/><circle cx="575.5" cy="157.9" r="2.1"/><circle cx="597.6" cy="171.3" r="2.1"/><circle cx="641.6" cy="179.5" r="2.1"/><circle cx="614.0" cy="182.2" r="2.1"/><circle cx="648.5" cy="198.9" r="2.1"/><circle cx="617.5" cy="188.4" r="2.1"/><circle cx="638.0" cy="175.3" r="2.1"/><circle cx="639.9" cy="206.2" r="2.1"/><circle cx="584.1" cy="170.5" r="2.1"/><circle cx="555.0" cy="164.9" r="2.1"/><circle cx="613.2" cy="178.6" r="2.1"/><circle cx="590.7" cy="172.0" r="2.1"/><circle cx="624.7" cy="201.3" r="2.1"/><circle cx="643.2" cy="206.9" r="2.1"/><circle cx="623.5" cy="197.7" r="2.1"/><circle cx="617.5" cy="191.0" r="2.1"/><circle cx="602.2" cy="185.6" r="2.1"/><circle cx="662.2" cy="202.6" r="2.1"/><circle cx="636.9" cy="184.8" r="2.1"/><circle cx="578.3" cy="179.1" r="2.1"/><circle cx="636.7" cy="212.7" r="2.1"/><circle cx="638.1" cy="190.4" r="2.1"/><circle cx="572.5" cy="161.0" r="2.1"/><circle cx="637.5" cy="197.3" r="2.1"/><circle cx="628.6" cy="193.6" r="2.1"/><circle cx="593.2" cy="175.7" r="2.1"/><circle cx="528.9" cy="125.1" r="2.1"/><circle cx="590.5" cy="159.1" r="2.1"/><circle cx="630.2" cy="200.9" r="2.1"/><circle cx="660.1" cy="204.5" r="2.1"/><circle cx="629.4" cy="189.9" r="2.1"/><circle cx="625.9" cy="207.5" r="2.1"/><circle cx="610.7" cy="193.6" r="2.1"/><circle cx="625.2" cy="173.8" r="2.1"/><circle cx="571.5" cy="162.6" r="2.1"/><circle cx="647.0" cy="190.9" r="2.1"/><circle cx="645.0" cy="197.5" r="2.1"/><circle cx="620.5" cy="184.8" r="2.1"/><circle cx="613.5" cy="169.3" r="2.1"/><circle cx="546.2" cy="149.3" r="2.1"/><circle cx="598.3" cy="182.9" r="2.1"/><circle cx="651.1" cy="183.2" r="2.1"/><circle cx="656.3" cy="207.3" r="2.1"/><circle cx="639.7" cy="184.9" r="2.1"/><circle cx="669.6" cy="190.6" r="2.1"/><circle cx="535.8" cy="124.9" r="2.1"/><circle cx="587.5" cy="166.5" r="2.1"/><circle cx="586.1" cy="170.5" r="2.1"/><circle cx="572.1" cy="164.5" r="2.1"/><circle cx="618.3" cy="183.8" r="2.1"/><circle cx="582.2" cy="164.5" r="2.1"/><circle cx="547.5" cy="156.6" r="2.1"/><circle cx="632.2" cy="188.0" r="2.1"/><circle cx="634.9" cy="199.6" r="2.1"/><circle cx="628.1" cy="195.4" r="2.1"/><circle cx="633.4" cy="182.5" r="2.1"/><circle cx="615.9" cy="186.5" r="2.1"/><circle cx="554.7" cy="160.2" r="2.1"/><circle cx="649.8" cy="196.8" r="2.1"/><circle cx="643.0" cy="177.6" r="2.1"/><circle cx="556.8" cy="151.8" r="2.1"/><circle cx="599.9" cy="164.2" r="2.1"/><circle cx="638.5" cy="200.8" r="2.1"/><circle cx="575.0" cy="169.3" r="2.1"/><circle cx="607.8" cy="197.9" r="2.1"/><circle cx="624.1" cy="176.0" r="2.1"/><circle cx="611.8" cy="188.3" r="2.1"/><circle cx="650.1" cy="200.7" r="2.1"/><circle cx="650.3" cy="212.5" r="2.1"/><circle cx="548.5" cy="157.4" r="2.1"/><circle cx="567.9" cy="159.3" r="2.1"/><circle cx="641.3" cy="185.8" r="2.1"/><circle cx="531.6" cy="144.6" r="2.1"/><circle cx="617.3" cy="195.7" r="2.1"/><circle cx="632.8" cy="205.1" r="2.1"/><circle cx="631.0" cy="188.1" r="2.1"/><circle cx="658.5" cy="206.3" r="2.1"/><circle cx="652.7" cy="208.0" r="2.1"/><circle cx="628.4" cy="196.3" r="2.1"/><circle cx="655.9" cy="190.4" r="2.1"/><circle cx="615.6" cy="174.5" r="2.1"/><circle cx="621.3" cy="201.1" r="2.1"/><circle cx="579.2" cy="153.6" r="2.1"/><circle cx="665.5" cy="208.0" r="2.1"/><circle cx="629.2" cy="188.9" r="2.1"/><circle cx="643.9" cy="207.1" r="2.1"/><circle cx="553.1" cy="165.5" r="2.1"/><circle cx="656.2" cy="188.3" r="2.1"/><circle cx="592.6" cy="165.0" r="2.1"/><circle cx="643.0" cy="203.6" r="2.1"/><circle cx="670.9" cy="207.3" r="2.1"/><circle cx="639.2" cy="190.4" r="2.1"/><circle cx="622.1" cy="197.7" r="2.1"/><circle cx="604.6" cy="186.8" r="2.1"/><circle cx="644.8" cy="183.9" r="2.1"/><circle cx="634.0" cy="183.4" r="2.1"/><circle cx="636.7" cy="192.0" r="2.1"/><circle cx="604.0" cy="176.8" r="2.1"/><circle cx="625.7" cy="184.1" r="2.1"/><circle cx="623.0" cy="184.4" r="2.1"/><circle cx="608.0" cy="169.6" r="2.1"/><circle cx="638.0" cy="192.8" r="2.1"/><circle cx="617.6" cy="198.8" r="2.1"/><circle cx="605.6" cy="191.5" r="2.1"/><circle cx="648.6" cy="181.1" r="2.1"/><circle cx="624.3" cy="197.5" r="2.1"/><circle cx="583.8" cy="177.7" r="2.1"/><circle cx="593.0" cy="173.1" r="2.1"/><circle cx="657.0" cy="190.7" r="2.1"/><circle cx="598.4" cy="171.3" r="2.1"/><circle cx="594.4" cy="170.5" r="2.1"/><circle cx="610.6" cy="182.0" r="2.1"/><circle cx="618.1" cy="203.1" r="2.1"/><circle cx="659.5" cy="189.1" r="2.1"/><circle cx="636.4" cy="209.7" r="2.1"/><circle cx="584.7" cy="165.8" r="2.1"/><circle cx="639.0" cy="187.8" r="2.1"/><circle cx="626.9" cy="190.6" r="2.1"/><circle cx="627.5" cy="201.9" r="2.1"/><circle cx="573.9" cy="172.5" r="2.1"/><circle cx="666.6" cy="194.6" r="2.1"/><circle cx="642.8" cy="183.1" r="2.1"/><circle cx="585.7" cy="170.5" r="2.1"/><circle cx="603.7" cy="170.1" r="2.1"/><circle cx="614.4" cy="188.0" r="2.1"/><circle cx="635.5" cy="176.5" r="2.1"/><circle cx="608.0" cy="181.8" r="2.1"/><circle cx="599.1" cy="187.5" r="2.1"/><circle cx="628.5" cy="204.3" r="2.1"/><circle cx="634.3" cy="187.7" r="2.1"/><circle cx="620.9" cy="191.6" r="2.1"/><circle cx="630.6" cy="201.0" r="2.1"/><circle cx="628.7" cy="193.4" r="2.1"/><circle cx="645.8" cy="196.2" r="2.1"/><circle cx="660.6" cy="204.1" r="2.1"/><circle cx="621.5" cy="210.3" r="2.1"/><circle cx="599.7" cy="192.0" r="2.1"/><circle cx="596.8" cy="172.8" r="2.1"/><circle cx="627.2" cy="178.2" r="2.1"/><circle cx="670.3" cy="190.7" r="2.1"/><circle cx="612.1" cy="187.9" r="2.1"/><circle cx="565.0" cy="156.5" r="2.1"/><circle cx="623.8" cy="187.3" r="2.1"/><circle cx="593.6" cy="168.0" r="2.1"/><circle cx="588.4" cy="175.1" r="2.1"/><circle cx="620.7" cy="190.6" r="2.1"/><circle cx="570.1" cy="162.7" r="2.1"/><circle cx="627.5" cy="191.4" r="2.1"/><circle cx="645.5" cy="197.7" r="2.1"/><circle cx="610.9" cy="174.4" r="2.1"/><circle cx="624.0" cy="176.9" r="2.1"/><circle cx="659.6" cy="195.7" r="2.1"/><circle cx="635.6" cy="195.4" r="2.1"/><circle cx="622.5" cy="177.9" r="2.1"/><circle cx="644.0" cy="206.9" r="2.1"/><circle cx="598.4" cy="173.7" r="2.1"/><circle cx="631.6" cy="192.4" r="2.1"/><circle cx="584.1" cy="187.0" r="2.1"/><circle cx="636.1" cy="195.1" r="2.1"/><circle cx="580.3" cy="169.6" r="2.1"/><circle cx="671.2" cy="191.3" r="2.1"/><circle cx="604.6" cy="164.0" r="2.1"/><circle cx="570.9" cy="167.2" r="2.1"/><circle cx="605.7" cy="180.6" r="2.1"/><circle cx="621.1" cy="189.5" r="2.1"/><circle cx="639.3" cy="178.9" r="2.1"/><circle cx="645.8" cy="202.1" r="2.1"/><circle cx="567.8" cy="164.7" r="2.1"/><circle cx="631.9" cy="179.7" r="2.1"/><circle cx="650.5" cy="204.1" r="2.1"/><circle cx="608.1" cy="168.4" r="2.1"/><circle cx="671.1" cy="182.3" r="2.1"/><circle cx="601.3" cy="175.0" r="2.1"/><circle cx="639.2" cy="180.9" r="2.1"/><circle cx="647.1" cy="182.4" r="2.1"/><circle cx="601.1" cy="191.1" r="2.1"/><circle cx="627.8" cy="185.5" r="2.1"/><circle cx="606.1" cy="174.6" r="2.1"/><circle cx="582.4" cy="158.4" r="2.1"/><circle cx="625.2" cy="204.6" r="2.1"/><circle cx="567.2" cy="160.3" r="2.1"/><circle cx="569.1" cy="152.5" r="2.1"/><circle cx="636.2" cy="196.6" r="2.1"/><circle cx="631.7" cy="197.1" r="2.1"/><circle cx="626.2" cy="185.2" r="2.1"/><circle cx="545.9" cy="149.0" r="2.1"/><circle cx="657.5" cy="177.9" r="2.1"/><circle cx="639.2" cy="186.6" r="2.1"/><circle cx="595.8" cy="164.2" r="2.1"/><circle cx="625.7" cy="181.7" r="2.1"/><circle cx="639.9" cy="193.7" r="2.1"/><circle cx="623.1" cy="183.8" r="2.1"/><circle cx="595.3" cy="190.0" r="2.1"/><circle cx="611.2" cy="181.4" r="2.1"/><circle cx="658.4" cy="203.7" r="2.1"/><circle cx="640.7" cy="175.8" r="2.1"/><circle cx="634.5" cy="195.0" r="2.1"/><circle cx="626.2" cy="183.5" r="2.1"/><circle cx="618.4" cy="203.5" r="2.1"/><circle cx="631.5" cy="211.2" r="2.1"/><circle cx="616.0" cy="192.1" r="2.1"/><circle cx="640.6" cy="213.4" r="2.1"/><circle cx="654.6" cy="196.2" r="2.1"/><circle cx="668.8" cy="174.8" r="2.1"/><circle cx="591.5" cy="161.0" r="2.1"/><circle cx="530.5" cy="140.4" r="2.1"/><circle cx="628.1" cy="200.3" r="2.1"/><circle cx="640.2" cy="207.5" r="2.1"/><circle cx="641.2" cy="201.3" r="2.1"/><circle cx="556.6" cy="168.9" r="2.1"/><circle cx="603.6" cy="191.3" r="2.1"/><circle cx="654.0" cy="192.3" r="2.1"/><circle cx="616.7" cy="172.6" r="2.1"/><circle cx="616.5" cy="193.5" r="2.1"/><circle cx="636.5" cy="180.0" r="2.1"/><circle cx="621.4" cy="194.8" r="2.1"/><circle cx="578.0" cy="152.1" r="2.1"/><circle cx="614.9" cy="202.5" r="2.1"/><circle cx="580.1" cy="169.4" r="2.1"/><circle cx="638.5" cy="182.4" r="2.1"/><circle cx="624.1" cy="182.6" r="2.1"/><circle cx="602.6" cy="194.0" r="2.1"/><circle cx="586.6" cy="170.3" r="2.1"/><circle cx="644.5" cy="192.0" r="2.1"/><circle cx="644.4" cy="179.6" r="2.1"/><circle cx="637.7" cy="198.6" r="2.1"/><circle cx="651.4" cy="183.8" r="2.1"/><circle cx="614.8" cy="185.9" r="2.1"/><circle cx="654.1" cy="203.2" r="2.1"/><circle cx="564.4" cy="165.7" r="2.1"/><circle cx="615.1" cy="172.3" r="2.1"/><circle cx="616.7" cy="176.2" r="2.1"/><circle cx="650.7" cy="199.6" r="2.1"/><circle cx="638.9" cy="191.3" r="2.1"/><circle cx="623.1" cy="201.9" r="2.1"/><circle cx="632.6" cy="192.9" r="2.1"/><circle cx="647.7" cy="179.9" r="2.1"/><circle cx="650.2" cy="188.9" r="2.1"/><circle cx="623.2" cy="195.8" r="2.1"/><circle cx="626.7" cy="175.3" r="2.1"/><circle cx="659.0" cy="195.6" r="2.1"/><circle cx="624.6" cy="198.8" r="2.1"/><circle cx="625.5" cy="205.8" r="2.1"/><circle cx="599.5" cy="164.4" r="2.1"/><circle cx="637.2" cy="200.6" r="2.1"/><circle cx="534.0" cy="145.0" r="2.1"/><circle cx="581.9" cy="173.4" r="2.1"/><circle cx="647.2" cy="188.7" r="2.1"/><circle cx="570.3" cy="169.8" r="2.1"/><circle cx="636.6" cy="195.7" r="2.1"/><circle cx="606.2" cy="181.3" r="2.1"/><circle cx="651.0" cy="183.6" r="2.1"/><circle cx="578.7" cy="158.0" r="2.1"/><circle cx="621.7" cy="201.3" r="2.1"/><circle cx="608.3" cy="170.6" r="2.1"/><circle cx="657.9" cy="209.0" r="2.1"/><circle cx="622.7" cy="190.3" r="2.1"/><circle cx="649.9" cy="201.4" r="2.1"/><circle cx="629.8" cy="190.7" r="2.1"/><circle cx="624.2" cy="181.9" r="2.1"/><circle cx="611.5" cy="174.9" r="2.1"/><circle cx="576.0" cy="154.6" r="2.1"/><circle cx="642.5" cy="196.3" r="2.1"/><circle cx="615.5" cy="177.9" r="2.1"/><circle cx="642.8" cy="175.4" r="2.1"/><circle cx="627.3" cy="187.4" r="2.1"/><circle cx="614.4" cy="185.2" r="2.1"/><circle cx="615.8" cy="181.8" r="2.1"/><circle cx="562.0" cy="150.0" r="2.1"/><circle cx="616.2" cy="197.6" r="2.1"/><circle cx="537.7" cy="146.8" r="2.1"/><circle cx="638.4" cy="212.9" r="2.1"/><circle cx="632.1" cy="200.0" r="2.1"/><circle cx="623.8" cy="192.0" r="2.1"/><circle cx="667.8" cy="191.1" r="2.1"/><circle cx="623.7" cy="188.3" r="2.1"/><circle cx="610.9" cy="167.9" r="2.1"/><circle cx="614.6" cy="198.7" r="2.1"/><circle cx="543.2" cy="151.9" r="2.1"/><circle cx="605.1" cy="180.6" r="2.1"/><circle cx="639.4" cy="186.7" r="2.1"/><circle cx="565.8" cy="158.9" r="2.1"/><circle cx="627.4" cy="190.5" r="2.1"/><circle cx="625.8" cy="189.4" r="2.1"/><circle cx="634.0" cy="184.2" r="2.1"/><circle cx="597.7" cy="189.7" r="2.1"/><circle cx="594.0" cy="171.7" r="2.1"/><circle cx="658.2" cy="200.5" r="2.1"/><circle cx="610.2" cy="180.5" r="2.1"/><circle cx="620.5" cy="182.8" r="2.1"/><circle cx="555.1" cy="153.7" r="2.1"/><circle cx="628.3" cy="192.9" r="2.1"/><circle cx="635.7" cy="192.7" r="2.1"/><circle cx="608.5" cy="196.8" r="2.1"/><circle cx="580.5" cy="147.2" r="2.1"/><circle cx="587.7" cy="163.1" r="2.1"/><circle cx="628.7" cy="177.7" r="2.1"/><circle cx="594.8" cy="191.1" r="2.1"/><circle cx="640.6" cy="200.9" r="2.1"/><circle cx="589.1" cy="177.7" r="2.1"/><circle cx="594.2" cy="175.5" r="2.1"/><circle cx="610.5" cy="177.0" r="2.1"/><circle cx="618.4" cy="188.3" r="2.1"/><circle cx="656.1" cy="174.4" r="2.1"/><circle cx="627.5" cy="173.2" r="2.1"/><circle cx="618.4" cy="179.7" r="2.1"/><circle cx="589.2" cy="162.3" r="2.1"/><circle cx="610.3" cy="183.6" r="2.1"/><circle cx="590.6" cy="165.7" r="2.1"/><circle cx="635.8" cy="173.7" r="2.1"/><circle cx="612.9" cy="179.6" r="2.1"/><circle cx="589.8" cy="169.8" r="2.1"/><circle cx="612.1" cy="166.4" r="2.1"/><circle cx="615.3" cy="182.6" r="2.1"/><circle cx="571.6" cy="172.5" r="2.1"/><circle cx="571.8" cy="162.7" r="2.1"/><circle cx="636.4" cy="197.2" r="2.1"/><circle cx="589.6" cy="188.9" r="2.1"/><circle cx="644.2" cy="183.1" r="2.1"/><circle cx="540.3" cy="140.2" r="2.1"/><circle cx="633.6" cy="191.1" r="2.1"/><circle cx="634.3" cy="187.2" r="2.1"/><circle cx="556.8" cy="146.4" r="2.1"/><circle cx="563.9" cy="164.2" r="2.1"/><circle cx="655.7" cy="209.1" r="2.1"/><circle cx="586.3" cy="169.4" r="2.1"/><circle cx="672.6" cy="183.1" r="2.1"/><circle cx="602.5" cy="174.7" r="2.1"/><circle cx="652.0" cy="204.1" r="2.1"/><circle cx="610.8" cy="166.2" r="2.1"/><circle cx="598.8" cy="188.0" r="2.1"/><circle cx="636.0" cy="192.2" r="2.1"/><circle cx="619.3" cy="191.9" r="2.1"/><circle cx="557.6" cy="145.1" r="2.1"/><circle cx="565.4" cy="157.5" r="2.1"/><circle cx="653.5" cy="208.3" r="2.1"/><circle cx="652.9" cy="205.0" r="2.1"/><circle cx="553.5" cy="132.8" r="2.1"/><circle cx="660.6" cy="190.1" r="2.1"/><circle cx="584.7" cy="163.7" r="2.1"/><circle cx="627.1" cy="174.4" r="2.1"/><circle cx="621.5" cy="188.9" r="2.1"/><circle cx="596.8" cy="175.4" r="2.1"/><circle cx="624.0" cy="190.5" r="2.1"/><circle cx="621.1" cy="181.1" r="2.1"/><circle cx="607.5" cy="175.7" r="2.1"/><circle cx="633.1" cy="184.1" r="2.1"/><circle cx="613.0" cy="200.9" r="2.1"/><circle cx="558.8" cy="145.3" r="2.1"/><circle cx="640.3" cy="192.0" r="2.1"/><circle cx="637.8" cy="196.2" r="2.1"/><circle cx="635.1" cy="187.0" r="2.1"/><circle cx="607.5" cy="167.0" r="2.1"/><circle cx="629.2" cy="174.1" r="2.1"/><circle cx="649.2" cy="189.0" r="2.1"/><circle cx="625.7" cy="195.2" r="2.1"/><circle cx="600.9" cy="173.3" r="2.1"/><circle cx="583.4" cy="173.0" r="2.1"/><circle cx="609.3" cy="193.3" r="2.1"/><circle cx="637.8" cy="205.6" r="2.1"/><circle cx="599.6" cy="169.9" r="2.1"/><circle cx="593.6" cy="174.6" r="2.1"/><circle cx="628.1" cy="182.2" r="2.1"/><circle cx="616.8" cy="174.4" r="2.1"/><circle cx="672.5" cy="197.5" r="2.1"/><circle cx="619.1" cy="193.0" r="2.1"/><circle cx="650.8" cy="174.7" r="2.1"/><circle cx="581.5" cy="167.7" r="2.1"/><circle cx="607.7" cy="178.4" r="2.1"/><circle cx="670.8" cy="204.2" r="2.1"/><circle cx="660.4" cy="178.0" r="2.1"/><circle cx="611.7" cy="166.5" r="2.1"/><circle cx="653.7" cy="200.3" r="2.1"/><circle cx="620.0" cy="181.1" r="2.1"/><circle cx="630.3" cy="197.9" r="2.1"/><circle cx="614.1" cy="205.6" r="2.1"/><circle cx="655.0" cy="188.0" r="2.1"/><circle cx="580.8" cy="171.9" r="2.1"/><circle cx="633.8" cy="191.2" r="2.1"/><circle cx="661.8" cy="188.3" r="2.1"/><circle cx="650.3" cy="199.1" r="2.1"/><circle cx="604.2" cy="179.4" r="2.1"/><circle cx="601.5" cy="180.9" r="2.1"/><circle cx="567.6" cy="147.9" r="2.1"/><circle cx="626.7" cy="197.6" r="2.1"/><circle cx="611.9" cy="184.9" r="2.1"/><circle cx="591.2" cy="162.0" r="2.1"/><circle cx="585.0" cy="161.6" r="2.1"/><circle cx="646.6" cy="195.2" r="2.1"/><circle cx="619.0" cy="184.9" r="2.1"/><circle cx="640.2" cy="205.5" r="2.1"/><circle cx="647.9" cy="192.6" r="2.1"/><circle cx="624.5" cy="200.6" r="2.1"/><circle cx="620.9" cy="184.3" r="2.1"/><circle cx="621.0" cy="182.6" r="2.1"/><circle cx="549.1" cy="145.1" r="2.1"/><circle cx="633.4" cy="180.9" r="2.1"/><circle cx="655.3" cy="196.7" r="2.1"/><circle cx="570.1" cy="140.8" r="2.1"/><circle cx="662.7" cy="202.4" r="2.1"/><circle cx="557.4" cy="153.8" r="2.1"/><circle cx="667.1" cy="195.5" r="2.1"/><circle cx="622.7" cy="188.7" r="2.1"/><circle cx="650.2" cy="185.6" r="2.1"/><circle cx="641.6" cy="193.5" r="2.1"/><circle cx="650.2" cy="191.0" r="2.1"/><circle cx="598.5" cy="184.6" r="2.1"/><circle cx="644.3" cy="214.0" r="2.1"/><circle cx="591.5" cy="184.1" r="2.1"/><circle cx="543.8" cy="138.7" r="2.1"/><circle cx="587.7" cy="184.7" r="2.1"/><circle cx="592.4" cy="163.8" r="2.1"/><circle cx="601.5" cy="176.6" r="2.1"/><circle cx="608.6" cy="172.0" r="2.1"/><circle cx="639.8" cy="177.5" r="2.1"/><circle cx="571.1" cy="159.8" r="2.1"/><circle cx="662.6" cy="173.9" r="2.1"/><circle cx="660.8" cy="193.2" r="2.1"/><circle cx="643.9" cy="190.3" r="2.1"/><circle cx="592.7" cy="162.3" r="2.1"/><circle cx="623.2" cy="177.5" r="2.1"/><circle cx="641.7" cy="186.4" r="2.1"/><circle cx="668.9" cy="194.0" r="2.1"/><circle cx="635.1" cy="192.7" r="2.1"/><circle cx="632.2" cy="190.7" r="2.1"/><circle cx="553.2" cy="165.3" r="2.1"/><circle cx="632.8" cy="177.3" r="2.1"/><circle cx="658.9" cy="194.7" r="2.1"/><circle cx="596.3" cy="169.5" r="2.1"/><circle cx="574.2" cy="179.8" r="2.1"/><circle cx="553.1" cy="152.5" r="2.1"/><circle cx="637.5" cy="185.8" r="2.1"/><circle cx="610.8" cy="183.7" r="2.1"/><circle cx="630.0" cy="188.1" r="2.1"/><circle cx="653.5" cy="180.1" r="2.1"/><circle cx="625.8" cy="194.7" r="2.1"/><circle cx="623.7" cy="175.3" r="2.1"/><circle cx="603.5" cy="181.5" r="2.1"/><circle cx="617.5" cy="172.3" r="2.1"/><circle cx="572.9" cy="159.5" r="2.1"/><circle cx="657.8" cy="193.2" r="2.1"/><circle cx="553.3" cy="149.9" r="2.1"/><circle cx="641.5" cy="184.6" r="2.1"/><circle cx="596.2" cy="176.9" r="2.1"/><circle cx="551.5" cy="153.9" r="2.1"/><circle cx="645.2" cy="188.6" r="2.1"/><circle cx="560.3" cy="161.8" r="2.1"/><circle cx="653.3" cy="203.4" r="2.1"/><circle cx="646.7" cy="194.1" r="2.1"/><circle cx="627.6" cy="187.2" r="2.1"/><circle cx="635.4" cy="188.9" r="2.1"/><circle cx="612.8" cy="177.2" r="2.1"/><circle cx="642.0" cy="206.6" r="2.1"/><circle cx="642.9" cy="185.5" r="2.1"/><circle cx="604.3" cy="190.0" r="2.1"/><circle cx="644.3" cy="193.2" r="2.1"/><circle cx="607.9" cy="190.3" r="2.1"/><circle cx="576.4" cy="171.5" r="2.1"/><circle cx="563.4" cy="150.2" r="2.1"/><circle cx="659.7" cy="185.2" r="2.1"/><circle cx="605.5" cy="177.2" r="2.1"/><circle cx="653.5" cy="191.9" r="2.1"/><circle cx="625.9" cy="204.9" r="2.1"/><circle cx="623.7" cy="193.8" r="2.1"/><circle cx="658.0" cy="191.2" r="2.1"/><circle cx="662.5" cy="203.9" r="2.1"/><circle cx="547.9" cy="149.2" r="2.1"/><circle cx="599.4" cy="171.0" r="2.1"/><circle cx="634.8" cy="194.2" r="2.1"/><circle cx="636.2" cy="176.4" r="2.1"/><circle cx="624.1" cy="192.2" r="2.1"/><circle cx="558.2" cy="157.4" r="2.1"/><circle cx="633.0" cy="184.1" r="2.1"/><circle cx="647.6" cy="189.6" r="2.1"/><circle cx="597.8" cy="187.9" r="2.1"/><circle cx="611.1" cy="176.6" r="2.1"/><circle cx="662.3" cy="194.6" r="2.1"/><circle cx="666.8" cy="180.8" r="2.1"/><circle cx="602.2" cy="177.8" r="2.1"/><circle cx="635.7" cy="191.7" r="2.1"/><circle cx="564.0" cy="153.1" r="2.1"/><circle cx="633.0" cy="181.7" r="2.1"/><circle cx="583.4" cy="175.1" r="2.1"/><circle cx="641.3" cy="203.0" r="2.1"/><circle cx="568.0" cy="151.3" r="2.1"/><circle cx="614.4" cy="178.3" r="2.1"/><circle cx="592.4" cy="171.8" r="2.1"/><circle cx="611.2" cy="174.4" r="2.1"/><circle cx="620.9" cy="177.0" r="2.1"/><circle cx="610.7" cy="189.2" r="2.1"/><circle cx="603.9" cy="164.9" r="2.1"/><circle cx="629.9" cy="197.5" r="2.1"/><circle cx="635.2" cy="195.0" r="2.1"/><circle cx="643.0" cy="174.6" r="2.1"/><circle cx="636.0" cy="198.3" r="2.1"/><circle cx="566.9" cy="170.1" r="2.1"/><circle cx="594.1" cy="160.2" r="2.1"/><circle cx="571.1" cy="167.3" r="2.1"/><circle cx="556.6" cy="149.7" r="2.1"/><circle cx="661.6" cy="190.2" r="2.1"/><circle cx="574.2" cy="151.5" r="2.1"/><circle cx="602.8" cy="194.9" r="2.1"/><circle cx="569.7" cy="149.3" r="2.1"/><circle cx="592.4" cy="166.6" r="2.1"/><circle cx="646.2" cy="207.7" r="2.1"/><circle cx="637.0" cy="199.9" r="2.1"/><circle cx="631.5" cy="193.5" r="2.1"/><circle cx="637.6" cy="188.6" r="2.1"/><circle cx="620.7" cy="186.2" r="2.1"/><circle cx="553.8" cy="153.9" r="2.1"/><circle cx="627.9" cy="202.9" r="2.1"/><circle cx="638.1" cy="187.9" r="2.1"/><circle cx="618.6" cy="186.0" r="2.1"/><circle cx="635.5" cy="180.4" r="2.1"/><circle cx="625.2" cy="207.8" r="2.1"/><circle cx="592.7" cy="165.0" r="2.1"/><circle cx="626.2" cy="192.7" r="2.1"/><circle cx="622.9" cy="195.5" r="2.1"/><circle cx="450.0" cy="154.0" r="2.1"/><circle cx="491.7" cy="152.3" r="2.1"/><circle cx="486.8" cy="165.4" r="2.1"/><circle cx="485.1" cy="168.6" r="2.1"/><circle cx="510.5" cy="116.8" r="2.1"/><circle cx="512.0" cy="120.5" r="2.1"/><circle cx="533.2" cy="120.0" r="2.1"/><circle cx="522.5" cy="128.0" r="2.1"/><circle cx="509.2" cy="130.0" r="2.1"/><circle cx="528.0" cy="133.8" r="2.1"/><circle cx="540.0" cy="133.0" r="2.1"/><circle cx="548.8" cy="131.2" r="2.1"/><circle cx="548.8" cy="133.0" r="2.1"/><circle cx="538.8" cy="136.2" r="2.1"/><circle cx="542.5" cy="137.0" r="2.1"/><circle cx="546.2" cy="138.0" r="2.1"/><circle cx="555.0" cy="136.2" r="2.1"/><circle cx="512.5" cy="138.8" r="2.1"/><circle cx="521.2" cy="138.8" r="2.1"/><circle cx="537.5" cy="140.5" r="2.1"/><circle cx="546.2" cy="141.2" r="2.1"/><circle cx="552.5" cy="139.5" r="2.1"/><circle cx="555.5" cy="139.5" r="2.1"/><circle cx="572.5" cy="139.5" r="2.1"/><circle cx="575.0" cy="141.2" r="2.1"/><circle cx="575.0" cy="143.8" r="2.1"/><circle cx="582.5" cy="143.8" r="2.1"/><circle cx="560.0" cy="145.5" r="2.1"/><circle cx="563.8" cy="146.2" r="2.1"/><circle cx="540.0" cy="146.2" r="2.1"/><circle cx="518.8" cy="154.8" r="2.1"/><circle cx="528.2" cy="150.8" r="2.1"/><circle cx="535.0" cy="149.0" r="2.1"/><circle cx="540.0" cy="147.8" r="2.1"/><circle cx="536.2" cy="154.0" r="2.1"/><circle cx="533.8" cy="159.5" r="2.1"/><circle cx="539.2" cy="159.0" r="2.1"/><circle cx="544.5" cy="157.0" r="2.1"/><circle cx="540.0" cy="164.0" r="2.1"/><circle cx="544.5" cy="162.8" r="2.1"/><circle cx="549.2" cy="174.8" r="2.1"/><circle cx="558.8" cy="176.0" r="2.1"/><circle cx="567.0" cy="182.8" r="2.1"/><circle cx="563.8" cy="185.2" r="2.1"/><circle cx="570.0" cy="177.8" r="2.1"/><circle cx="575.0" cy="196.0" r="2.1"/><circle cx="580.0" cy="194.5" r="2.1"/><circle cx="687.2" cy="175.5" r="2.1"/><circle cx="709.8" cy="185.8" r="2.1"/><circle cx="674.2" cy="172.5" r="2.1"/><circle cx="668.0" cy="176.2" r="2.1"/><circle cx="661.8" cy="173.8" r="2.1"/><circle cx="674.2" cy="182.5" r="2.1"/><circle cx="680.5" cy="185.0" r="2.1"/><circle cx="666.8" cy="183.0" r="2.1"/><circle cx="664.2" cy="185.0" r="2.1"/><circle cx="670.5" cy="190.0" r="2.1"/><circle cx="679.2" cy="192.0" r="2.1"/><circle cx="665.5" cy="191.2" r="2.1"/><circle cx="675.5" cy="196.2" r="2.1"/><circle cx="660.5" cy="195.0" r="2.1"/><circle cx="663.0" cy="197.5" r="2.1"/><circle cx="655.5" cy="195.0" r="2.1"/><circle cx="669.2" cy="200.0" r="2.1"/><circle cx="669.2" cy="202.5" r="2.1"/><circle cx="673.0" cy="205.5" r="2.1"/><circle cx="658.0" cy="206.2" r="2.1"/><circle cx="659.2" cy="209.5" r="2.1"/><circle cx="655.0" cy="212.0" r="2.1"/><circle cx="649.2" cy="212.5" r="2.1"/><circle cx="628.8" cy="218.0" r="2.1"/><circle cx="648.8" cy="229.5" r="2.1"/><circle cx="567.0" cy="183.0" r="2.1"/><circle cx="563.8" cy="185.0" r="2.1"/><circle cx="602.0" cy="210.5" r="2.1"/><circle cx="615.0" cy="209.5" r="2.1"/><circle cx="616.2" cy="212.0" r="2.1"/><circle cx="628.0" cy="218.2" r="2.1"/>
</g>
<g fill="#b8b91e" >
<circle cx="424.2" cy="55.0" r="2.1"/><circle cx="437.0" cy="47.8" r="2.1"/><circle cx="454.8" cy="45.5" r="2.1"/><circle cx="464.2" cy="61.8" r="2.1"/><circle cx="466.0" cy="70.5" r="2.1"/><circle cx="478.8" cy="61.5" r="2.1"/><circle cx="490.0" cy="53.2" r="2.1"/><circle cx="496.2" cy="50.8" r="2.1"/><circle cx="502.2" cy="48.0" r="2.1"/><circle cx="496.2" cy="55.0" r="2.1"/><circle cx="492.0" cy="62.0" r="2.1"/><circle cx="494.8" cy="63.2" r="2.1"/><circle cx="496.2" cy="67.5" r="2.1"/><circle cx="498.0" cy="70.5" r="2.1"/><circle cx="517.0" cy="34.8" r="2.1"/><circle cx="515.8" cy="48.2" r="2.1"/><circle cx="513.8" cy="52.5" r="2.1"/><circle cx="504.5" cy="56.2" r="2.1"/><circle cx="507.5" cy="55.0" r="2.1"/><circle cx="512.5" cy="56.2" r="2.1"/><circle cx="523.8" cy="55.5" r="2.1"/><circle cx="528.2" cy="57.0" r="2.1"/><circle cx="531.8" cy="58.0" r="2.1"/><circle cx="543.0" cy="60.0" r="2.1"/><circle cx="516.2" cy="61.2" r="2.1"/><circle cx="507.5" cy="65.5" r="2.1"/><circle cx="527.0" cy="66.8" r="2.1"/><circle cx="544.5" cy="68.0" r="2.1"/><circle cx="551.2" cy="67.5" r="2.1"/><circle cx="557.5" cy="69.2" r="2.1"/><circle cx="557.5" cy="72.0" r="2.1"/><circle cx="523.8" cy="70.0" r="2.1"/><circle cx="535.0" cy="71.2" r="2.1"/><circle cx="501.2" cy="73.0" r="2.1"/><circle cx="510.5" cy="72.0" r="2.1"/><circle cx="512.5" cy="72.0" r="2.1"/><circle cx="522.0" cy="73.8" r="2.1"/><circle cx="547.5" cy="73.8" r="2.1"/><circle cx="548.8" cy="75.0" r="2.1"/><circle cx="535.8" cy="76.2" r="2.1"/><circle cx="537.0" cy="78.8" r="2.1"/><circle cx="552.5" cy="78.0" r="2.1"/><circle cx="558.0" cy="79.5" r="2.1"/><circle cx="522.0" cy="79.5" r="2.1"/><circle cx="524.2" cy="80.5" r="2.1"/><circle cx="528.8" cy="81.2" r="2.1"/><circle cx="533.8" cy="80.5" r="2.1"/><circle cx="537.0" cy="82.0" r="2.1"/><circle cx="570.0" cy="81.2" r="2.1"/><circle cx="518.8" cy="83.0" r="2.1"/><circle cx="520.5" cy="85.5" r="2.1"/><circle cx="529.5" cy="84.5" r="2.1"/><circle cx="556.2" cy="85.0" r="2.1"/><circle cx="563.8" cy="84.5" r="2.1"/><circle cx="551.2" cy="86.2" r="2.1"/><circle cx="536.2" cy="82.5" r="2.1"/><circle cx="556.2" cy="80.0" r="2.1"/><circle cx="570.0" cy="87.5" r="2.1"/><circle cx="546.2" cy="88.8" r="2.1"/><circle cx="561.2" cy="89.5" r="2.1"/><circle cx="521.2" cy="90.5" r="2.1"/><circle cx="560.0" cy="91.2" r="2.1"/><circle cx="566.2" cy="92.5" r="2.1"/><circle cx="521.2" cy="93.0" r="2.1"/><circle cx="557.5" cy="93.8" r="2.1"/><circle cx="575.0" cy="94.2" r="2.1"/><circle cx="560.0" cy="95.0" r="2.1"/><circle cx="548.8" cy="94.5" r="2.1"/><circle cx="525.0" cy="95.5" r="2.1"/><circle cx="555.0" cy="97.0" r="2.1"/><circle cx="540.0" cy="96.2" r="2.1"/><circle cx="537.5" cy="97.5" r="2.1"/><circle cx="535.0" cy="98.8" r="2.1"/><circle cx="553.8" cy="98.8" r="2.1"/><circle cx="546.2" cy="103.0" r="2.1"/><circle cx="567.0" cy="107.0" r="2.1"/><circle cx="573.2" cy="109.2" r="2.1"/><circle cx="570.0" cy="110.5" r="2.1"/><circle cx="586.2" cy="111.8" r="2.1"/><circle cx="583.0" cy="114.5" r="2.1"/><circle cx="547.5" cy="112.5" r="2.1"/><circle cx="576.5" cy="132.8" r="2.1"/><circle cx="486.8" cy="78.2" r="2.1"/><circle cx="440.2" cy="86.2" r="2.1"/><circle cx="453.0" cy="87.0" r="2.1"/><circle cx="488.5" cy="86.2" r="2.1"/><circle cx="445.0" cy="98.8" r="2.1"/><circle cx="477.2" cy="100.0" r="2.1"/>
</g>
<path d="M421.11 109.71L541.28 109.71L621.40 171.31L709.53 171.31" fill="none" stroke="#000" stroke-width="1.35" stroke-dasharray="1.3 1.75"/>
<g fill="#ffff00" stroke="#000" stroke-width="0.9">
<rect x="595.75" y="107.25" width="3.5" height="3.5" fill-opacity="0.32" stroke-opacity="0.62"/><rect x="603.75" y="118.75" width="3.5" height="3.5" fill-opacity="0.32" stroke-opacity="0.62"/><rect x="624.50" y="115.25" width="3.5" height="3.5" fill-opacity="0.32" stroke-opacity="0.62"/><rect x="597.25" y="123.25" width="3.5" height="3.5" fill-opacity="0.32" stroke-opacity="0.62"/><rect x="603.75" y="124.00" width="3.5" height="3.5" fill-opacity="0.32" stroke-opacity="0.62"/><rect x="619.75" y="123.50" width="3.5" height="3.5" fill-opacity="0.32" stroke-opacity="0.62"/><rect x="594.00" y="127.00" width="3.5" height="3.5" fill-opacity="0.32" stroke-opacity="0.62"/><rect x="592.50" y="131.25" width="3.5" height="3.5" fill-opacity="0.32" stroke-opacity="0.62"/><rect x="599.00" y="133.75" width="3.5" height="3.5" fill-opacity="0.32" stroke-opacity="0.62"/><rect x="604.50" y="133.75" width="3.5" height="3.5" fill-opacity="0.32" stroke-opacity="0.62"/><rect x="599.50" y="136.25" width="3.5" height="3.5" fill-opacity="0.32" stroke-opacity="0.62"/><rect x="602.75" y="136.25" width="3.5" height="3.5" fill-opacity="0.32" stroke-opacity="0.62"/><rect x="594.00" y="139.50" width="3.5" height="3.5" fill-opacity="0.32" stroke-opacity="0.62"/><rect x="599.00" y="139.50" width="3.5" height="3.5" fill-opacity="0.32" stroke-opacity="0.62"/><rect x="621.25" y="139.00" width="3.5" height="3.5" fill-opacity="0.32" stroke-opacity="0.62"/><rect x="624.50" y="138.25" width="3.5" height="3.5" fill-opacity="0.32" stroke-opacity="0.62"/><rect x="632.50" y="140.25" width="3.5" height="3.5" fill-opacity="0.32" stroke-opacity="0.62"/><rect x="608.25" y="142.50" width="3.5" height="3.5" fill-opacity="0.32" stroke-opacity="0.62"/><rect x="618.25" y="144.50" width="3.5" height="3.5" fill-opacity="0.32" stroke-opacity="0.62"/><rect x="615.75" y="147.00" width="3.5" height="3.5" fill-opacity="0.32" stroke-opacity="0.62"/><rect x="624.50" y="147.00" width="3.5" height="3.5" fill-opacity="0.32" stroke-opacity="0.62"/><rect x="592.50" y="147.75" width="3.5" height="3.5" fill-opacity="0.32" stroke-opacity="0.62"/><rect x="627.00" y="148.75" width="3.5" height="3.5" fill-opacity="0.32" stroke-opacity="0.62"/><rect x="608.25" y="149.50" width="3.5" height="3.5" fill-opacity="0.32" stroke-opacity="0.62"/><rect x="631.25" y="150.25" width="3.5" height="3.5" fill-opacity="0.32" stroke-opacity="0.62"/><rect x="636.25" y="150.25" width="3.5" height="3.5" fill-opacity="0.32" stroke-opacity="0.62"/><rect x="641.25" y="150.75" width="3.5" height="3.5" fill-opacity="0.32" stroke-opacity="0.62"/><rect x="659.50" y="150.25" width="3.5" height="3.5" fill-opacity="0.32" stroke-opacity="0.62"/><rect x="610.75" y="152.75" width="3.5" height="3.5" fill-opacity="0.32" stroke-opacity="0.62"/><rect x="633.25" y="153.25" width="3.5" height="3.5" fill-opacity="0.32" stroke-opacity="0.62"/><rect x="642.00" y="153.75" width="3.5" height="3.5" fill-opacity="0.32" stroke-opacity="0.62"/><rect x="652.75" y="154.50" width="3.5" height="3.5" fill-opacity="0.32" stroke-opacity="0.62"/><rect x="637.00" y="155.25" width="3.5" height="3.5" fill-opacity="0.32" stroke-opacity="0.62"/><rect x="605.75" y="156.25" width="3.5" height="3.5" fill-opacity="0.32" stroke-opacity="0.62"/><rect x="619.50" y="157.00" width="3.5" height="3.5" fill-opacity="0.32" stroke-opacity="0.62"/><rect x="633.25" y="157.00" width="3.5" height="3.5" fill-opacity="0.32" stroke-opacity="0.62"/><rect x="655.75" y="157.75" width="3.5" height="3.5" fill-opacity="0.32" stroke-opacity="0.62"/><rect x="623.25" y="160.25" width="3.5" height="3.5" fill-opacity="0.32" stroke-opacity="0.62"/><rect x="612.00" y="162.00" width="3.5" height="3.5" fill-opacity="0.32" stroke-opacity="0.62"/><rect x="629.50" y="162.00" width="3.5" height="3.5" fill-opacity="0.32" stroke-opacity="0.62"/><rect x="625.75" y="163.25" width="3.5" height="3.5" fill-opacity="0.32" stroke-opacity="0.62"/><rect x="642.00" y="164.00" width="3.5" height="3.5" fill-opacity="0.32" stroke-opacity="0.62"/><rect x="647.50" y="164.00" width="3.5" height="3.5" fill-opacity="0.32" stroke-opacity="0.62"/><rect x="637.50" y="165.75" width="3.5" height="3.5" fill-opacity="0.32" stroke-opacity="0.62"/><rect x="620.75" y="167.00" width="3.5" height="3.5" fill-opacity="0.32" stroke-opacity="0.62"/><rect x="624.50" y="167.75" width="3.5" height="3.5" fill-opacity="0.32" stroke-opacity="0.62"/><rect x="627.75" y="167.75" width="3.5" height="3.5" fill-opacity="0.32" stroke-opacity="0.62"/><rect x="646.25" y="167.75" width="3.5" height="3.5" fill-opacity="0.32" stroke-opacity="0.62"/><rect x="619.50" y="168.75" width="3.5" height="3.5" fill-opacity="0.32" stroke-opacity="0.62"/><rect x="641.75" y="155.75" width="3.5" height="3.5" fill-opacity="0.32" stroke-opacity="0.62"/><rect x="657.50" y="157.00" width="3.5" height="3.5" fill-opacity="0.32" stroke-opacity="0.62"/><rect x="655.00" y="158.25" width="3.5" height="3.5" fill-opacity="0.32" stroke-opacity="0.62"/><rect x="672.50" y="159.00" width="3.5" height="3.5" fill-opacity="0.32" stroke-opacity="0.62"/><rect x="665.75" y="160.75" width="3.5" height="3.5" fill-opacity="0.32" stroke-opacity="0.62"/><rect x="656.75" y="162.00" width="3.5" height="3.5" fill-opacity="0.32" stroke-opacity="0.62"/><rect x="672.50" y="165.75" width="3.5" height="3.5" fill-opacity="0.32" stroke-opacity="0.62"/>
</g>
</g>
<path d="M421.11 242.4v-5.4M421.11 5.45v5.4M461.17 242.4v-5.4M461.17 5.45v5.4M501.23 242.4v-5.4M501.23 5.45v5.4M541.28 242.4v-5.4M541.28 5.45v5.4M581.34 242.4v-5.4M581.34 5.45v5.4M621.40 242.4v-5.4M621.40 5.45v5.4M661.46 242.4v-5.4M661.46 5.45v5.4M701.51 242.4v-5.4M701.51 5.45v5.4M413.1 242.40h5.4M717.5 242.40h-5.4M413.1 195.01h5.4M717.5 195.01h-5.4M413.1 147.62h5.4M717.5 147.62h-5.4M413.1 100.23h5.4M717.5 100.23h-5.4M413.1 52.84h5.4M717.5 52.84h-5.4M413.1 5.45h5.4M717.5 5.45h-5.4" stroke="#222" stroke-width="1.15" fill="none"/>
<rect x="413.1" y="5.45" width="304.40" height="236.95" fill="none" stroke="#222" stroke-width="1.0"/>
<text x="421.11" y="252.30" font-size="9.67" text-anchor="middle" fill="#000" stroke="#000" stroke-width="0.22" textLength="27.58" lengthAdjust="spacingAndGlyphs" >−1.25</text>
<text x="461.17" y="252.30" font-size="9.67" text-anchor="middle" fill="#000" stroke="#000" stroke-width="0.22" textLength="27.58" lengthAdjust="spacingAndGlyphs" >−1.00</text>
<text x="501.23" y="252.30" font-size="9.67" text-anchor="middle" fill="#000" stroke="#000" stroke-width="0.22" textLength="27.58" lengthAdjust="spacingAndGlyphs" >−0.75</text>
<text x="541.28" y="252.30" font-size="9.67" text-anchor="middle" fill="#000" stroke="#000" stroke-width="0.22" textLength="27.58" lengthAdjust="spacingAndGlyphs" >−0.50</text>
<text x="581.34" y="252.30" font-size="9.67" text-anchor="middle" fill="#000" stroke="#000" stroke-width="0.22" textLength="27.58" lengthAdjust="spacingAndGlyphs" >−0.25</text>
<text x="621.40" y="252.30" font-size="9.67" text-anchor="middle" fill="#000" stroke="#000" stroke-width="0.22" textLength="20.04" lengthAdjust="spacingAndGlyphs" >0.00</text>
<text x="661.46" y="252.30" font-size="9.67" text-anchor="middle" fill="#000" stroke="#000" stroke-width="0.22" textLength="20.04" lengthAdjust="spacingAndGlyphs" >0.25</text>
<text x="701.51" y="252.30" font-size="9.67" text-anchor="middle" fill="#000" stroke="#000" stroke-width="0.22" textLength="20.04" lengthAdjust="spacingAndGlyphs" >0.50</text>
<text x="409.70" y="245.80" font-size="9.67" text-anchor="end" fill="#000" stroke="#000" stroke-width="0.22" textLength="21.85" lengthAdjust="spacingAndGlyphs" >−0.1</text>
<text x="409.70" y="198.41" font-size="9.67" text-anchor="end" fill="#000" stroke="#000" stroke-width="0.22" textLength="14.31" lengthAdjust="spacingAndGlyphs" >0.0</text>
<text x="409.70" y="151.02" font-size="9.67" text-anchor="end" fill="#000" stroke="#000" stroke-width="0.22" textLength="14.31" lengthAdjust="spacingAndGlyphs" >0.1</text>
<text x="409.70" y="103.63" font-size="9.67" text-anchor="end" fill="#000" stroke="#000" stroke-width="0.22" textLength="14.31" lengthAdjust="spacingAndGlyphs" >0.2</text>
<text x="409.70" y="56.24" font-size="9.67" text-anchor="end" fill="#000" stroke="#000" stroke-width="0.22" textLength="14.31" lengthAdjust="spacingAndGlyphs" >0.3</text>
<text x="409.70" y="8.85" font-size="9.67" text-anchor="end" fill="#000" stroke="#000" stroke-width="0.22" textLength="14.31" lengthAdjust="spacingAndGlyphs" >0.4</text>
<rect x="635.0" y="10.0" width="78.0" height="42.0" rx="1.6" fill="#fff" fill-opacity="0.8" stroke="#ccc" stroke-width="0.8"/>
<circle cx="647.8" cy="18.0" r="2.1" fill="#1f77b4"/>
<text x="664.30" y="21.30" font-size="9.67" text-anchor="start" fill="#000" stroke="#000" stroke-width="0.22" textLength="40.38" lengthAdjust="spacingAndGlyphs" >Thin disk</text>
<circle cx="647.8" cy="31.3" r="2.1" fill="#b8b91e"/>
<text x="664.30" y="34.60" font-size="9.67" text-anchor="start" fill="#000" stroke="#000" stroke-width="0.22" textLength="44.84" lengthAdjust="spacingAndGlyphs" >Thick disk</text>
<rect x="646.0999999999999" y="42.9" width="3.4" height="3.4" fill="#ffff00" stroke="#000" stroke-width="0.75" fill-opacity="0.32" stroke-opacity="0.62"/>
<text x="664.30" y="47.90" font-size="9.67" text-anchor="start" fill="#000" stroke="#000" stroke-width="0.22" textLength="24.10" lengthAdjust="spacingAndGlyphs" >hαmr</text>
<text x="565.80" y="266.20" font-size="10.52" text-anchor="middle" fill="#000" stroke="#000" stroke-width="0.22" textLength="32.60" lengthAdjust="spacingAndGlyphs" >[Fe/H]</text>
<g transform="translate(381.0 124.0) rotate(-90)">
<text x="0" y="0" font-size="10.5" text-anchor="middle" textLength="32.4" lengthAdjust="spacingAndGlyphs" stroke="#000" stroke-width="0.22">[<tspan font-style="italic">α</tspan>/Fe]</text>
</g>
</svg>
</body></html>
